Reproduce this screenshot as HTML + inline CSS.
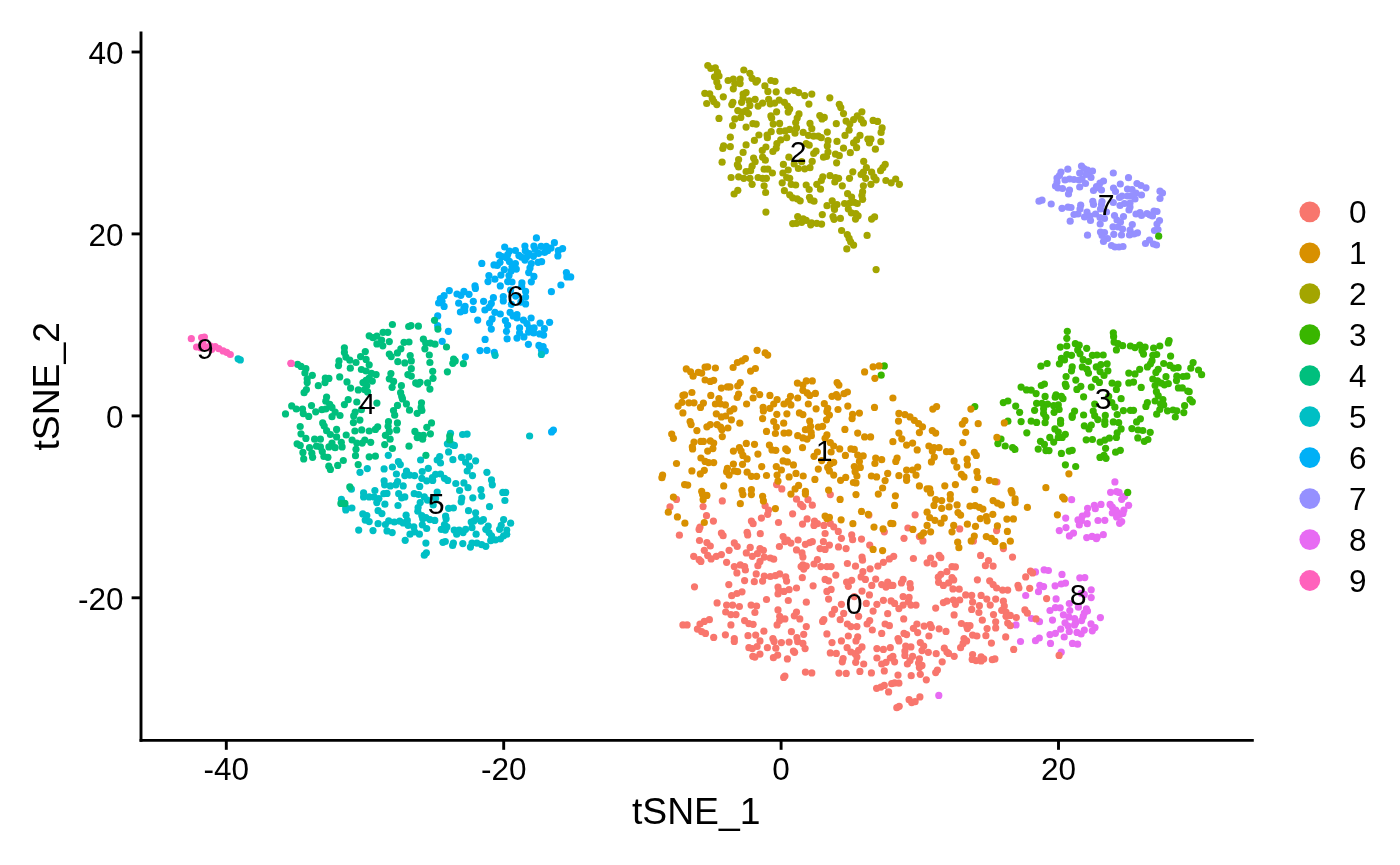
<!DOCTYPE html>
<html><head><meta charset="utf-8"><title>tSNE</title>
<style>html,body{margin:0;padding:0;background:#fff}svg{display:block}text{font-family:"Liberation Sans",sans-serif;fill:#000}</style></head><body>
<svg width="1400" height="865" viewBox="0 0 1400 865">
<rect width="1400" height="865" fill="#fff"/>
<g fill="#E76BF3">
<circle cx="1114.9" cy="481.9" r="3.6"/><circle cx="1110.6" cy="492.3" r="3.6"/><circle cx="1116.6" cy="491.6" r="3.6"/><circle cx="1119.1" cy="492.4" r="3.6"/><circle cx="1124.7" cy="496.3" r="3.6"/><circle cx="1121.7" cy="499.3" r="3.6"/><circle cx="1128.6" cy="505.3" r="3.6"/><circle cx="1110.1" cy="504.4" r="3.6"/><circle cx="1112.3" cy="507.0" r="3.6"/><circle cx="1115.7" cy="510.0" r="3.6"/><circle cx="1112.3" cy="513.0" r="3.6"/><circle cx="1117.4" cy="512.6" r="3.6"/><circle cx="1120.4" cy="514.3" r="3.6"/><circle cx="1123.9" cy="510.0" r="3.6"/><circle cx="1123.0" cy="513.4" r="3.6"/><circle cx="1116.6" cy="516.9" r="3.6"/><circle cx="1119.6" cy="523.3" r="3.6"/><circle cx="1121.7" cy="521.6" r="3.6"/><circle cx="1071.6" cy="499.7" r="3.6"/><circle cx="1087.6" cy="508.3" r="3.6"/><circle cx="1094.3" cy="505.3" r="3.6"/><circle cx="1095.3" cy="508.7" r="3.6"/><circle cx="1101.0" cy="504.4" r="3.6"/><circle cx="1087.0" cy="513.9" r="3.6"/><circle cx="1082.3" cy="516.0" r="3.6"/><circle cx="1078.0" cy="519.9" r="3.6"/><circle cx="1081.4" cy="520.7" r="3.6"/><circle cx="1079.3" cy="525.0" r="3.6"/><circle cx="1087.3" cy="523.7" r="3.6"/><circle cx="1098.0" cy="520.5" r="3.6"/><circle cx="1104.8" cy="520.3" r="3.6"/><circle cx="1065.7" cy="518.1" r="3.6"/><circle cx="1066.0" cy="527.6" r="3.6"/><circle cx="1059.3" cy="530.6" r="3.6"/><circle cx="1069.4" cy="535.9" r="3.6"/><circle cx="1073.5" cy="533.1" r="3.6"/><circle cx="1086.7" cy="537.6" r="3.6"/><circle cx="1092.1" cy="536.4" r="3.6"/><circle cx="1097.3" cy="537.0" r="3.6"/><circle cx="1096.4" cy="538.7" r="3.6"/><circle cx="1103.3" cy="534.7" r="3.6"/><circle cx="1035.5" cy="571.9" r="3.6"/><circle cx="1044.1" cy="569.8" r="3.6"/><circle cx="1048.4" cy="570.5" r="3.6"/><circle cx="1062.0" cy="574.4" r="3.6"/><circle cx="1079.8" cy="577.8" r="3.6"/><circle cx="1084.8" cy="577.6" r="3.6"/><circle cx="1091.2" cy="589.8" r="3.6"/><circle cx="1091.2" cy="597.6" r="3.6"/><circle cx="1084.3" cy="594.4" r="3.6"/><circle cx="1081.1" cy="593.3" r="3.6"/><circle cx="1065.5" cy="583.1" r="3.6"/><circle cx="1061.2" cy="584.0" r="3.6"/><circle cx="1055.1" cy="585.8" r="3.6"/><circle cx="1039.8" cy="585.3" r="3.6"/><circle cx="1043.6" cy="586.6" r="3.6"/><circle cx="1038.5" cy="591.7" r="3.6"/><circle cx="1025.7" cy="595.5" r="3.6"/><circle cx="1056.1" cy="598.9" r="3.6"/><circle cx="1069.3" cy="603.5" r="3.6"/><circle cx="1078.4" cy="607.2" r="3.6"/><circle cx="1086.4" cy="608.9" r="3.6"/><circle cx="1087.5" cy="611.0" r="3.6"/><circle cx="1084.3" cy="613.1" r="3.6"/><circle cx="1083.2" cy="616.4" r="3.6"/><circle cx="1081.6" cy="620.6" r="3.6"/><circle cx="1050.0" cy="610.5" r="3.6"/><circle cx="1055.4" cy="607.6" r="3.6"/><circle cx="1060.2" cy="607.8" r="3.6"/><circle cx="1069.8" cy="610.5" r="3.6"/><circle cx="1063.4" cy="614.8" r="3.6"/><circle cx="1068.8" cy="616.9" r="3.6"/><circle cx="1074.6" cy="618.5" r="3.6"/><circle cx="1075.7" cy="622.8" r="3.6"/><circle cx="1065.0" cy="622.8" r="3.6"/><circle cx="1068.2" cy="626.0" r="3.6"/><circle cx="1060.7" cy="629.2" r="3.6"/><circle cx="1069.3" cy="631.4" r="3.6"/><circle cx="1074.6" cy="624.9" r="3.6"/><circle cx="1052.5" cy="620.1" r="3.6"/><circle cx="1031.5" cy="618.5" r="3.6"/><circle cx="1039.5" cy="621.7" r="3.6"/><circle cx="1016.0" cy="624.9" r="3.6"/><circle cx="1100.4" cy="617.6" r="3.6"/><circle cx="1091.0" cy="623.9" r="3.6"/><circle cx="1095.0" cy="627.6" r="3.6"/><circle cx="1092.3" cy="630.8" r="3.6"/><circle cx="1084.3" cy="630.1" r="3.6"/><circle cx="1081.1" cy="634.0" r="3.6"/><circle cx="1077.0" cy="632.4" r="3.6"/><circle cx="1050.0" cy="634.6" r="3.6"/><circle cx="1055.4" cy="633.3" r="3.6"/><circle cx="1064.2" cy="637.0" r="3.6"/><circle cx="1039.3" cy="638.0" r="3.6"/><circle cx="1035.5" cy="640.7" r="3.6"/><circle cx="1020.5" cy="641.5" r="3.6"/><circle cx="1050.5" cy="643.4" r="3.6"/><circle cx="1072.5" cy="643.4" r="3.6"/><circle cx="1077.6" cy="644.2" r="3.6"/><circle cx="1061.2" cy="652.2" r="3.6"/><circle cx="938.8" cy="695.4" r="3.6"/>
</g>
<g fill="#9590FF">
<circle cx="1067.8" cy="169.2" r="3.6"/><circle cx="1061.0" cy="172.0" r="3.6"/><circle cx="1059.5" cy="175.5" r="3.6"/><circle cx="1057.0" cy="178.0" r="3.6"/><circle cx="1057.0" cy="182.0" r="3.6"/><circle cx="1055.5" cy="186.0" r="3.6"/><circle cx="1058.0" cy="188.0" r="3.6"/><circle cx="1062.5" cy="188.5" r="3.6"/><circle cx="1065.0" cy="180.0" r="3.6"/><circle cx="1069.5" cy="179.0" r="3.6"/><circle cx="1074.0" cy="179.5" r="3.6"/><circle cx="1079.0" cy="180.0" r="3.6"/><circle cx="1082.0" cy="179.0" r="3.6"/><circle cx="1085.5" cy="183.5" r="3.6"/><circle cx="1079.7" cy="187.0" r="3.6"/><circle cx="1079.7" cy="173.0" r="3.6"/><circle cx="1081.5" cy="166.0" r="3.6"/><circle cx="1084.0" cy="168.5" r="3.6"/><circle cx="1087.5" cy="170.0" r="3.6"/><circle cx="1092.5" cy="171.0" r="3.6"/><circle cx="1089.0" cy="174.0" r="3.6"/><circle cx="1091.0" cy="177.5" r="3.6"/><circle cx="1086.0" cy="174.5" r="3.6"/><circle cx="1069.5" cy="190.0" r="3.6"/><circle cx="1068.5" cy="194.0" r="3.6"/><circle cx="1113.3" cy="173.0" r="3.6"/><circle cx="1128.5" cy="177.7" r="3.6"/><circle cx="1120.3" cy="184.0" r="3.6"/><circle cx="1103.5" cy="181.0" r="3.6"/><circle cx="1100.0" cy="183.0" r="3.6"/><circle cx="1096.5" cy="186.5" r="3.6"/><circle cx="1093.5" cy="190.5" r="3.6"/><circle cx="1101.5" cy="190.0" r="3.6"/><circle cx="1099.0" cy="188.0" r="3.6"/><circle cx="1113.5" cy="188.0" r="3.6"/><circle cx="1115.5" cy="191.5" r="3.6"/><circle cx="1127.5" cy="189.0" r="3.6"/><circle cx="1132.0" cy="189.5" r="3.6"/><circle cx="1137.0" cy="183.5" r="3.6"/><circle cx="1141.0" cy="185.5" r="3.6"/><circle cx="1146.0" cy="187.8" r="3.6"/><circle cx="1141.5" cy="195.0" r="3.6"/><circle cx="1136.0" cy="193.0" r="3.6"/><circle cx="1135.0" cy="199.0" r="3.6"/><circle cx="1131.0" cy="196.0" r="3.6"/><circle cx="1127.5" cy="196.0" r="3.6"/><circle cx="1122.0" cy="196.0" r="3.6"/><circle cx="1119.5" cy="197.5" r="3.6"/><circle cx="1160.0" cy="191.2" r="3.6"/><circle cx="1162.5" cy="193.0" r="3.6"/><circle cx="1160.0" cy="198.5" r="3.6"/><circle cx="1092.8" cy="201.3" r="3.6"/><circle cx="1093.5" cy="204.5" r="3.6"/><circle cx="1102.0" cy="201.5" r="3.6"/><circle cx="1101.5" cy="204.5" r="3.6"/><circle cx="1100.5" cy="209.0" r="3.6"/><circle cx="1106.5" cy="212.0" r="3.6"/><circle cx="1113.3" cy="202.5" r="3.6"/><circle cx="1120.0" cy="205.5" r="3.6"/><circle cx="1124.5" cy="203.5" r="3.6"/><circle cx="1130.0" cy="203.0" r="3.6"/><circle cx="1130.0" cy="207.0" r="3.6"/><circle cx="1129.0" cy="210.0" r="3.6"/><circle cx="1039.0" cy="201.2" r="3.6"/><circle cx="1042.0" cy="200.2" r="3.6"/><circle cx="1051.2" cy="204.0" r="3.6"/><circle cx="1062.0" cy="208.3" r="3.6"/><circle cx="1068.0" cy="207.2" r="3.6"/><circle cx="1071.0" cy="207.5" r="3.6"/><circle cx="1080.7" cy="205.2" r="3.6"/><circle cx="1080.0" cy="209.0" r="3.6"/><circle cx="1078.0" cy="214.0" r="3.6"/><circle cx="1074.0" cy="214.5" r="3.6"/><circle cx="1087.0" cy="212.0" r="3.6"/><circle cx="1084.5" cy="217.0" r="3.6"/><circle cx="1090.0" cy="216.0" r="3.6"/><circle cx="1095.5" cy="214.0" r="3.6"/><circle cx="1090.5" cy="220.5" r="3.6"/><circle cx="1100.0" cy="217.5" r="3.6"/><circle cx="1104.5" cy="218.5" r="3.6"/><circle cx="1100.2" cy="224.0" r="3.6"/><circle cx="1070.2" cy="221.2" r="3.6"/><circle cx="1114.5" cy="215.5" r="3.6"/><circle cx="1117.0" cy="220.0" r="3.6"/><circle cx="1123.5" cy="216.5" r="3.6"/><circle cx="1120.5" cy="222.0" r="3.6"/><circle cx="1113.0" cy="226.8" r="3.6"/><circle cx="1118.0" cy="227.0" r="3.6"/><circle cx="1122.5" cy="229.0" r="3.6"/><circle cx="1132.3" cy="224.5" r="3.6"/><circle cx="1130.0" cy="230.0" r="3.6"/><circle cx="1137.5" cy="232.8" r="3.6"/><circle cx="1134.0" cy="234.0" r="3.6"/><circle cx="1129.5" cy="235.0" r="3.6"/><circle cx="1121.5" cy="235.0" r="3.6"/><circle cx="1113.8" cy="234.3" r="3.6"/><circle cx="1087.5" cy="235.2" r="3.6"/><circle cx="1100.5" cy="232.0" r="3.6"/><circle cx="1104.5" cy="232.5" r="3.6"/><circle cx="1102.0" cy="235.5" r="3.6"/><circle cx="1107.5" cy="238.5" r="3.6"/><circle cx="1103.5" cy="241.5" r="3.6"/><circle cx="1111.5" cy="245.5" r="3.6"/><circle cx="1115.0" cy="247.0" r="3.6"/><circle cx="1119.0" cy="247.0" r="3.6"/><circle cx="1123.0" cy="246.5" r="3.6"/><circle cx="1136.0" cy="214.0" r="3.6"/><circle cx="1140.0" cy="212.5" r="3.6"/><circle cx="1141.5" cy="215.5" r="3.6"/><circle cx="1147.0" cy="213.5" r="3.6"/><circle cx="1150.0" cy="215.0" r="3.6"/><circle cx="1152.5" cy="216.0" r="3.6"/><circle cx="1154.0" cy="211.0" r="3.6"/><circle cx="1157.0" cy="211.5" r="3.6"/><circle cx="1159.5" cy="220.5" r="3.6"/><circle cx="1157.0" cy="224.0" r="3.6"/><circle cx="1154.5" cy="230.5" r="3.6"/><circle cx="1158.0" cy="229.5" r="3.6"/><circle cx="1149.5" cy="240.0" r="3.6"/><circle cx="1145.5" cy="243.5" r="3.6"/><circle cx="1153.5" cy="244.0" r="3.6"/><circle cx="1156.5" cy="245.0" r="3.6"/>
</g>
<g fill="#00B0F6">
<circle cx="536.4" cy="237.9" r="3.6"/><circle cx="554.4" cy="242.7" r="3.6"/><circle cx="562.6" cy="248.6" r="3.6"/><circle cx="558.3" cy="250.7" r="3.6"/><circle cx="557.9" cy="255.9" r="3.6"/><circle cx="551.0" cy="248.1" r="3.6"/><circle cx="546.3" cy="246.4" r="3.6"/><circle cx="547.6" cy="250.7" r="3.6"/><circle cx="544.6" cy="252.4" r="3.6"/><circle cx="541.1" cy="246.4" r="3.6"/><circle cx="533.9" cy="246.0" r="3.6"/><circle cx="535.1" cy="249.4" r="3.6"/><circle cx="538.6" cy="253.3" r="3.6"/><circle cx="524.9" cy="246.0" r="3.6"/><circle cx="525.3" cy="250.7" r="3.6"/><circle cx="529.1" cy="253.7" r="3.6"/><circle cx="533.4" cy="256.3" r="3.6"/><circle cx="526.6" cy="257.1" r="3.6"/><circle cx="521.4" cy="257.1" r="3.6"/><circle cx="518.9" cy="255.4" r="3.6"/><circle cx="524.9" cy="260.1" r="3.6"/><circle cx="515.4" cy="250.5" r="3.6"/><circle cx="509.4" cy="251.1" r="3.6"/><circle cx="504.7" cy="247.0" r="3.6"/><circle cx="507.7" cy="254.6" r="3.6"/><circle cx="499.1" cy="255.0" r="3.6"/><circle cx="502.1" cy="256.7" r="3.6"/><circle cx="506.9" cy="258.0" r="3.6"/><circle cx="509.4" cy="261.4" r="3.6"/><circle cx="515.4" cy="263.6" r="3.6"/><circle cx="512.0" cy="266.6" r="3.6"/><circle cx="516.3" cy="269.1" r="3.6"/><circle cx="511.1" cy="270.9" r="3.6"/><circle cx="504.3" cy="269.6" r="3.6"/><circle cx="509.0" cy="275.6" r="3.6"/><circle cx="500.0" cy="262.3" r="3.6"/><circle cx="497.4" cy="265.3" r="3.6"/><circle cx="494.0" cy="264.9" r="3.6"/><circle cx="500.9" cy="275.1" r="3.6"/><circle cx="488.9" cy="275.6" r="3.6"/><circle cx="494.9" cy="279.2" r="3.6"/><circle cx="488.0" cy="281.6" r="3.6"/><circle cx="507.7" cy="281.6" r="3.6"/><circle cx="512.0" cy="282.0" r="3.6"/><circle cx="531.3" cy="263.6" r="3.6"/><circle cx="530.0" cy="267.9" r="3.6"/><circle cx="528.7" cy="272.6" r="3.6"/><circle cx="533.9" cy="276.4" r="3.6"/><circle cx="531.3" cy="281.8" r="3.6"/><circle cx="521.9" cy="282.9" r="3.6"/><circle cx="538.1" cy="262.3" r="3.6"/><circle cx="541.6" cy="261.7" r="3.6"/><circle cx="481.8" cy="263.4" r="3.6"/><circle cx="566.4" cy="272.6" r="3.6"/><circle cx="566.9" cy="276.9" r="3.6"/><circle cx="570.7" cy="276.9" r="3.6"/><circle cx="560.9" cy="285.0" r="3.6"/><circle cx="551.4" cy="291.7" r="3.6"/><circle cx="449.3" cy="290.6" r="3.6"/><circle cx="444.1" cy="295.7" r="3.6"/><circle cx="440.3" cy="298.7" r="3.6"/><circle cx="442.0" cy="301.3" r="3.6"/><circle cx="438.6" cy="303.0" r="3.6"/><circle cx="444.1" cy="306.4" r="3.6"/><circle cx="457.0" cy="294.0" r="3.6"/><circle cx="460.9" cy="295.3" r="3.6"/><circle cx="463.9" cy="291.4" r="3.6"/><circle cx="469.0" cy="294.3" r="3.6"/><circle cx="475.4" cy="288.4" r="3.6"/><circle cx="475.0" cy="285.9" r="3.6"/><circle cx="458.7" cy="303.2" r="3.6"/><circle cx="465.1" cy="306.4" r="3.6"/><circle cx="460.4" cy="312.0" r="3.6"/><circle cx="464.7" cy="310.7" r="3.6"/><circle cx="463.9" cy="308.1" r="3.6"/><circle cx="473.3" cy="301.3" r="3.6"/><circle cx="473.1" cy="309.4" r="3.6"/><circle cx="483.6" cy="301.3" r="3.6"/><circle cx="493.4" cy="297.7" r="3.6"/><circle cx="491.3" cy="303.4" r="3.6"/><circle cx="489.1" cy="307.3" r="3.6"/><circle cx="484.9" cy="310.0" r="3.6"/><circle cx="500.3" cy="285.9" r="3.6"/><circle cx="503.3" cy="296.6" r="3.6"/><circle cx="503.3" cy="300.9" r="3.6"/><circle cx="510.6" cy="290.1" r="3.6"/><circle cx="511.4" cy="304.3" r="3.6"/><circle cx="515.7" cy="296.1" r="3.6"/><circle cx="520.9" cy="302.1" r="3.6"/><circle cx="525.6" cy="291.4" r="3.6"/><circle cx="525.6" cy="297.0" r="3.6"/><circle cx="525.6" cy="303.9" r="3.6"/><circle cx="521.7" cy="286.7" r="3.6"/><circle cx="437.7" cy="315.9" r="3.6"/><circle cx="437.7" cy="325.7" r="3.6"/><circle cx="448.4" cy="331.3" r="3.6"/><circle cx="477.7" cy="320.1" r="3.6"/><circle cx="494.9" cy="312.3" r="3.6"/><circle cx="500.3" cy="314.0" r="3.6"/><circle cx="492.1" cy="318.9" r="3.6"/><circle cx="489.6" cy="323.1" r="3.6"/><circle cx="491.3" cy="329.1" r="3.6"/><circle cx="510.1" cy="312.4" r="3.6"/><circle cx="513.1" cy="315.9" r="3.6"/><circle cx="517.0" cy="314.6" r="3.6"/><circle cx="517.0" cy="318.0" r="3.6"/><circle cx="505.4" cy="320.6" r="3.6"/><circle cx="507.6" cy="325.3" r="3.6"/><circle cx="506.5" cy="331.3" r="3.6"/><circle cx="523.4" cy="320.1" r="3.6"/><circle cx="531.1" cy="318.0" r="3.6"/><circle cx="526.9" cy="323.6" r="3.6"/><circle cx="529.4" cy="327.9" r="3.6"/><circle cx="534.1" cy="327.9" r="3.6"/><circle cx="528.6" cy="332.1" r="3.6"/><circle cx="533.7" cy="333.0" r="3.6"/><circle cx="540.1" cy="323.1" r="3.6"/><circle cx="544.4" cy="328.7" r="3.6"/><circle cx="539.7" cy="333.9" r="3.6"/><circle cx="543.6" cy="335.1" r="3.6"/><circle cx="519.6" cy="327.9" r="3.6"/><circle cx="519.6" cy="333.0" r="3.6"/><circle cx="517.0" cy="338.1" r="3.6"/><circle cx="523.9" cy="336.9" r="3.6"/><circle cx="507.1" cy="338.8" r="3.6"/><circle cx="485.1" cy="339.4" r="3.6"/><circle cx="528.4" cy="344.3" r="3.6"/><circle cx="442.2" cy="341.3" r="3.6"/><circle cx="538.9" cy="345.4" r="3.6"/><circle cx="543.1" cy="346.7" r="3.6"/><circle cx="541.4" cy="349.7" r="3.6"/><circle cx="545.3" cy="351.0" r="3.6"/><circle cx="480.0" cy="350.6" r="3.6"/><circle cx="487.0" cy="350.3" r="3.6"/><circle cx="494.3" cy="352.3" r="3.6"/><circle cx="465.4" cy="356.8" r="3.6"/><circle cx="549.6" cy="322.3" r="3.6"/><circle cx="551.6" cy="431.9" r="3.6"/><circle cx="553.4" cy="430.1" r="3.6"/>
</g>
<g fill="#00BFC4">
<circle cx="495.1" cy="355.3" r="3.6"/><circle cx="541.4" cy="354.4" r="3.6"/><circle cx="450.5" cy="433.3" r="3.6"/><circle cx="462.6" cy="434.5" r="3.6"/><circle cx="467.1" cy="434.1" r="3.6"/><circle cx="447.4" cy="443.8" r="3.6"/><circle cx="452.1" cy="444.6" r="3.6"/><circle cx="454.4" cy="445.4" r="3.6"/><circle cx="388.3" cy="455.3" r="3.6"/><circle cx="398.4" cy="461.7" r="3.6"/><circle cx="400.3" cy="464.6" r="3.6"/><circle cx="392.4" cy="467.0" r="3.6"/><circle cx="384.1" cy="468.9" r="3.6"/><circle cx="367.3" cy="468.6" r="3.6"/><circle cx="360.0" cy="472.3" r="3.6"/><circle cx="396.4" cy="474.0" r="3.6"/><circle cx="420.6" cy="460.0" r="3.6"/><circle cx="428.3" cy="468.3" r="3.6"/><circle cx="422.2" cy="471.5" r="3.6"/><circle cx="406.5" cy="471.0" r="3.6"/><circle cx="404.8" cy="475.6" r="3.6"/><circle cx="409.7" cy="475.1" r="3.6"/><circle cx="414.6" cy="475.6" r="3.6"/><circle cx="439.7" cy="456.5" r="3.6"/><circle cx="437.2" cy="460.0" r="3.6"/><circle cx="440.5" cy="463.0" r="3.6"/><circle cx="448.6" cy="451.9" r="3.6"/><circle cx="452.9" cy="459.7" r="3.6"/><circle cx="461.5" cy="457.3" r="3.6"/><circle cx="468.8" cy="456.8" r="3.6"/><circle cx="465.6" cy="462.1" r="3.6"/><circle cx="469.6" cy="466.2" r="3.6"/><circle cx="467.2" cy="471.0" r="3.6"/><circle cx="472.5" cy="475.6" r="3.6"/><circle cx="475.6" cy="460.8" r="3.6"/><circle cx="486.9" cy="472.3" r="3.6"/><circle cx="491.5" cy="479.9" r="3.6"/><circle cx="492.3" cy="484.8" r="3.6"/><circle cx="421.8" cy="478.3" r="3.6"/><circle cx="426.7" cy="480.8" r="3.6"/><circle cx="432.4" cy="477.5" r="3.6"/><circle cx="435.6" cy="474.3" r="3.6"/><circle cx="440.5" cy="474.0" r="3.6"/><circle cx="432.7" cy="480.4" r="3.6"/><circle cx="444.5" cy="478.3" r="3.6"/><circle cx="447.7" cy="480.4" r="3.6"/><circle cx="419.7" cy="486.4" r="3.6"/><circle cx="455.8" cy="483.5" r="3.6"/><circle cx="463.9" cy="482.9" r="3.6"/><circle cx="468.0" cy="487.7" r="3.6"/><circle cx="459.6" cy="490.5" r="3.6"/><circle cx="480.9" cy="489.7" r="3.6"/><circle cx="481.7" cy="496.1" r="3.6"/><circle cx="472.8" cy="497.8" r="3.6"/><circle cx="461.8" cy="498.1" r="3.6"/><circle cx="461.2" cy="501.8" r="3.6"/><circle cx="502.8" cy="492.4" r="3.6"/><circle cx="505.7" cy="492.4" r="3.6"/><circle cx="504.9" cy="500.5" r="3.6"/><circle cx="489.5" cy="506.7" r="3.6"/><circle cx="384.1" cy="480.8" r="3.6"/><circle cx="384.6" cy="484.8" r="3.6"/><circle cx="390.3" cy="485.9" r="3.6"/><circle cx="395.9" cy="484.8" r="3.6"/><circle cx="397.6" cy="481.6" r="3.6"/><circle cx="403.2" cy="485.9" r="3.6"/><circle cx="398.7" cy="493.7" r="3.6"/><circle cx="401.6" cy="497.8" r="3.6"/><circle cx="404.8" cy="496.9" r="3.6"/><circle cx="383.8" cy="493.7" r="3.6"/><circle cx="387.0" cy="493.4" r="3.6"/><circle cx="374.9" cy="490.5" r="3.6"/><circle cx="363.6" cy="492.9" r="3.6"/><circle cx="363.6" cy="496.9" r="3.6"/><circle cx="369.2" cy="496.9" r="3.6"/><circle cx="374.1" cy="496.9" r="3.6"/><circle cx="378.9" cy="498.6" r="3.6"/><circle cx="376.8" cy="502.6" r="3.6"/><circle cx="384.9" cy="504.2" r="3.6"/><circle cx="398.0" cy="505.5" r="3.6"/><circle cx="414.2" cy="493.7" r="3.6"/><circle cx="418.6" cy="494.5" r="3.6"/><circle cx="424.3" cy="496.9" r="3.6"/><circle cx="427.5" cy="500.2" r="3.6"/><circle cx="437.2" cy="492.1" r="3.6"/><circle cx="435.6" cy="498.6" r="3.6"/><circle cx="420.2" cy="502.6" r="3.6"/><circle cx="418.1" cy="507.5" r="3.6"/><circle cx="417.8" cy="511.2" r="3.6"/><circle cx="433.2" cy="505.0" r="3.6"/><circle cx="448.6" cy="508.3" r="3.6"/><circle cx="453.4" cy="508.0" r="3.6"/><circle cx="468.5" cy="510.7" r="3.6"/><circle cx="475.6" cy="512.8" r="3.6"/><circle cx="351.4" cy="489.2" r="3.6"/><circle cx="341.4" cy="499.4" r="3.6"/><circle cx="345.8" cy="507.5" r="3.6"/><circle cx="345.8" cy="509.9" r="3.6"/><circle cx="351.9" cy="508.0" r="3.6"/><circle cx="378.1" cy="510.7" r="3.6"/><circle cx="381.9" cy="513.6" r="3.6"/><circle cx="362.8" cy="513.9" r="3.6"/><circle cx="366.8" cy="515.6" r="3.6"/><circle cx="365.2" cy="520.1" r="3.6"/><circle cx="369.2" cy="521.6" r="3.6"/><circle cx="406.1" cy="515.2" r="3.6"/><circle cx="407.3" cy="520.4" r="3.6"/><circle cx="403.2" cy="522.9" r="3.6"/><circle cx="408.1" cy="525.3" r="3.6"/><circle cx="421.8" cy="515.6" r="3.6"/><circle cx="425.9" cy="517.7" r="3.6"/><circle cx="422.7" cy="518.8" r="3.6"/><circle cx="429.9" cy="519.6" r="3.6"/><circle cx="434.8" cy="520.4" r="3.6"/><circle cx="445.6" cy="516.1" r="3.6"/><circle cx="446.1" cy="518.8" r="3.6"/><circle cx="444.5" cy="524.5" r="3.6"/><circle cx="446.9" cy="526.9" r="3.6"/><circle cx="441.3" cy="529.3" r="3.6"/><circle cx="445.3" cy="530.1" r="3.6"/><circle cx="422.3" cy="524.8" r="3.6"/><circle cx="426.7" cy="528.5" r="3.6"/><circle cx="378.1" cy="523.7" r="3.6"/><circle cx="385.4" cy="524.5" r="3.6"/><circle cx="388.7" cy="520.9" r="3.6"/><circle cx="394.3" cy="522.0" r="3.6"/><circle cx="399.7" cy="521.2" r="3.6"/><circle cx="413.8" cy="526.9" r="3.6"/><circle cx="414.6" cy="531.8" r="3.6"/><circle cx="410.0" cy="534.2" r="3.6"/><circle cx="419.4" cy="534.2" r="3.6"/><circle cx="387.0" cy="530.9" r="3.6"/><circle cx="392.2" cy="532.6" r="3.6"/><circle cx="358.7" cy="530.1" r="3.6"/><circle cx="373.0" cy="530.6" r="3.6"/><circle cx="405.2" cy="540.3" r="3.6"/><circle cx="425.9" cy="543.1" r="3.6"/><circle cx="426.4" cy="552.8" r="3.6"/><circle cx="424.3" cy="555.2" r="3.6"/><circle cx="442.9" cy="542.3" r="3.6"/><circle cx="445.3" cy="541.5" r="3.6"/><circle cx="453.4" cy="543.1" r="3.6"/><circle cx="452.6" cy="545.5" r="3.6"/><circle cx="462.8" cy="543.6" r="3.6"/><circle cx="454.2" cy="530.1" r="3.6"/><circle cx="459.1" cy="530.1" r="3.6"/><circle cx="456.7" cy="534.2" r="3.6"/><circle cx="463.1" cy="532.6" r="3.6"/><circle cx="465.6" cy="529.3" r="3.6"/><circle cx="472.0" cy="527.7" r="3.6"/><circle cx="473.7" cy="521.2" r="3.6"/><circle cx="471.2" cy="522.0" r="3.6"/><circle cx="476.1" cy="518.8" r="3.6"/><circle cx="480.9" cy="521.2" r="3.6"/><circle cx="483.4" cy="519.6" r="3.6"/><circle cx="476.1" cy="534.2" r="3.6"/><circle cx="488.2" cy="526.1" r="3.6"/><circle cx="485.8" cy="529.3" r="3.6"/><circle cx="489.0" cy="532.6" r="3.6"/><circle cx="491.5" cy="535.8" r="3.6"/><circle cx="490.7" cy="540.7" r="3.6"/><circle cx="495.5" cy="539.8" r="3.6"/><circle cx="500.4" cy="539.0" r="3.6"/><circle cx="503.6" cy="535.8" r="3.6"/><circle cx="506.8" cy="534.2" r="3.6"/><circle cx="506.8" cy="530.1" r="3.6"/><circle cx="499.6" cy="529.3" r="3.6"/><circle cx="501.2" cy="525.3" r="3.6"/><circle cx="503.6" cy="519.6" r="3.6"/><circle cx="510.6" cy="523.2" r="3.6"/><circle cx="470.4" cy="547.1" r="3.6"/><circle cx="472.0" cy="543.1" r="3.6"/><circle cx="476.9" cy="543.1" r="3.6"/><circle cx="481.7" cy="544.7" r="3.6"/><circle cx="485.8" cy="546.3" r="3.6"/><circle cx="529.6" cy="436.0" r="3.6"/><circle cx="238.1" cy="358.8" r="3.6"/><circle cx="240.3" cy="359.9" r="3.6"/>
</g>
<g fill="#00BF7D">
<circle cx="434.5" cy="320.3" r="3.6"/><circle cx="437.9" cy="329.1" r="3.6"/><circle cx="446.5" cy="347.0" r="3.6"/><circle cx="297.6" cy="364.3" r="3.6"/><circle cx="301.0" cy="366.4" r="3.6"/><circle cx="305.9" cy="368.7" r="3.6"/><circle cx="304.9" cy="373.0" r="3.6"/><circle cx="312.3" cy="375.3" r="3.6"/><circle cx="307.2" cy="378.8" r="3.6"/><circle cx="307.2" cy="382.6" r="3.6"/><circle cx="306.4" cy="389.6" r="3.6"/><circle cx="304.1" cy="392.7" r="3.6"/><circle cx="318.3" cy="385.7" r="3.6"/><circle cx="325.3" cy="378.0" r="3.6"/><circle cx="328.9" cy="378.4" r="3.6"/><circle cx="325.0" cy="382.6" r="3.6"/><circle cx="326.6" cy="397.0" r="3.6"/><circle cx="325.8" cy="401.2" r="3.6"/><circle cx="329.7" cy="404.3" r="3.6"/><circle cx="332.0" cy="407.4" r="3.6"/><circle cx="325.8" cy="409.0" r="3.6"/><circle cx="321.9" cy="409.7" r="3.6"/><circle cx="315.7" cy="411.8" r="3.6"/><circle cx="311.5" cy="405.6" r="3.6"/><circle cx="291.7" cy="405.9" r="3.6"/><circle cx="296.3" cy="409.0" r="3.6"/><circle cx="302.5" cy="409.0" r="3.6"/><circle cx="303.3" cy="413.6" r="3.6"/><circle cx="308.7" cy="416.4" r="3.6"/><circle cx="285.5" cy="413.9" r="3.6"/><circle cx="335.1" cy="412.1" r="3.6"/><circle cx="332.0" cy="416.7" r="3.6"/><circle cx="340.0" cy="415.5" r="3.6"/><circle cx="344.4" cy="347.8" r="3.6"/><circle cx="344.4" cy="352.4" r="3.6"/><circle cx="345.9" cy="357.1" r="3.6"/><circle cx="349.8" cy="360.2" r="3.6"/><circle cx="356.0" cy="362.5" r="3.6"/><circle cx="339.0" cy="360.9" r="3.6"/><circle cx="338.5" cy="365.6" r="3.6"/><circle cx="350.3" cy="368.2" r="3.6"/><circle cx="365.3" cy="351.6" r="3.6"/><circle cx="360.6" cy="356.6" r="3.6"/><circle cx="366.1" cy="359.4" r="3.6"/><circle cx="369.2" cy="364.8" r="3.6"/><circle cx="361.4" cy="369.5" r="3.6"/><circle cx="366.1" cy="371.0" r="3.6"/><circle cx="371.5" cy="373.3" r="3.6"/><circle cx="376.1" cy="374.6" r="3.6"/><circle cx="339.7" cy="376.9" r="3.6"/><circle cx="347.0" cy="381.9" r="3.6"/><circle cx="350.6" cy="388.1" r="3.6"/><circle cx="358.3" cy="389.9" r="3.6"/><circle cx="369.2" cy="378.0" r="3.6"/><circle cx="372.3" cy="381.1" r="3.6"/><circle cx="366.1" cy="380.3" r="3.6"/><circle cx="363.0" cy="382.6" r="3.6"/><circle cx="366.8" cy="385.7" r="3.6"/><circle cx="364.5" cy="389.6" r="3.6"/><circle cx="367.6" cy="391.9" r="3.6"/><circle cx="348.2" cy="399.7" r="3.6"/><circle cx="344.4" cy="404.6" r="3.6"/><circle cx="356.8" cy="402.0" r="3.6"/><circle cx="376.9" cy="403.1" r="3.6"/><circle cx="361.4" cy="409.7" r="3.6"/><circle cx="355.2" cy="412.1" r="3.6"/><circle cx="353.7" cy="415.9" r="3.6"/><circle cx="359.9" cy="420.1" r="3.6"/><circle cx="353.4" cy="422.6" r="3.6"/><circle cx="369.2" cy="335.8" r="3.6"/><circle cx="373.0" cy="337.7" r="3.6"/><circle cx="376.9" cy="336.1" r="3.6"/><circle cx="383.1" cy="332.3" r="3.6"/><circle cx="387.8" cy="332.3" r="3.6"/><circle cx="381.6" cy="340.0" r="3.6"/><circle cx="376.9" cy="343.9" r="3.6"/><circle cx="382.8" cy="345.8" r="3.6"/><circle cx="389.3" cy="341.6" r="3.6"/><circle cx="392.4" cy="324.5" r="3.6"/><circle cx="408.7" cy="326.5" r="3.6"/><circle cx="411.0" cy="325.6" r="3.6"/><circle cx="418.4" cy="326.2" r="3.6"/><circle cx="404.0" cy="342.3" r="3.6"/><circle cx="409.0" cy="342.0" r="3.6"/><circle cx="400.9" cy="348.8" r="3.6"/><circle cx="397.4" cy="352.9" r="3.6"/><circle cx="389.3" cy="354.0" r="3.6"/><circle cx="391.2" cy="356.6" r="3.6"/><circle cx="410.2" cy="355.5" r="3.6"/><circle cx="411.3" cy="360.9" r="3.6"/><circle cx="404.8" cy="362.9" r="3.6"/><circle cx="397.8" cy="361.7" r="3.6"/><circle cx="411.3" cy="368.7" r="3.6"/><circle cx="407.9" cy="374.6" r="3.6"/><circle cx="411.3" cy="376.1" r="3.6"/><circle cx="423.4" cy="339.2" r="3.6"/><circle cx="425.7" cy="343.1" r="3.6"/><circle cx="430.4" cy="343.1" r="3.6"/><circle cx="435.0" cy="344.2" r="3.6"/><circle cx="424.9" cy="348.8" r="3.6"/><circle cx="429.3" cy="355.0" r="3.6"/><circle cx="429.9" cy="362.5" r="3.6"/><circle cx="432.7" cy="371.3" r="3.6"/><circle cx="433.0" cy="378.3" r="3.6"/><circle cx="427.6" cy="382.9" r="3.6"/><circle cx="429.9" cy="389.1" r="3.6"/><circle cx="415.7" cy="382.9" r="3.6"/><circle cx="420.0" cy="382.3" r="3.6"/><circle cx="418.0" cy="384.2" r="3.6"/><circle cx="390.9" cy="373.6" r="3.6"/><circle cx="389.3" cy="378.8" r="3.6"/><circle cx="393.6" cy="381.4" r="3.6"/><circle cx="392.1" cy="387.3" r="3.6"/><circle cx="401.4" cy="385.7" r="3.6"/><circle cx="400.6" cy="392.7" r="3.6"/><circle cx="401.7" cy="396.6" r="3.6"/><circle cx="402.5" cy="398.9" r="3.6"/><circle cx="406.4" cy="403.9" r="3.6"/><circle cx="409.5" cy="410.2" r="3.6"/><circle cx="397.5" cy="405.4" r="3.6"/><circle cx="393.5" cy="410.5" r="3.6"/><circle cx="394.7" cy="415.2" r="3.6"/><circle cx="421.5" cy="402.8" r="3.6"/><circle cx="421.1" cy="407.4" r="3.6"/><circle cx="421.9" cy="410.5" r="3.6"/><circle cx="417.2" cy="413.3" r="3.6"/><circle cx="453.6" cy="359.1" r="3.6"/><circle cx="455.2" cy="360.9" r="3.6"/><circle cx="452.8" cy="363.3" r="3.6"/><circle cx="463.4" cy="363.7" r="3.6"/><circle cx="447.4" cy="371.8" r="3.6"/><circle cx="300.2" cy="426.5" r="3.6"/><circle cx="301.0" cy="433.8" r="3.6"/><circle cx="305.9" cy="438.4" r="3.6"/><circle cx="297.1" cy="443.8" r="3.6"/><circle cx="300.2" cy="445.4" r="3.6"/><circle cx="309.5" cy="447.7" r="3.6"/><circle cx="314.6" cy="439.2" r="3.6"/><circle cx="320.4" cy="439.2" r="3.6"/><circle cx="316.5" cy="446.2" r="3.6"/><circle cx="320.4" cy="446.9" r="3.6"/><circle cx="322.7" cy="422.9" r="3.6"/><circle cx="324.2" cy="426.0" r="3.6"/><circle cx="326.6" cy="430.7" r="3.6"/><circle cx="330.4" cy="434.5" r="3.6"/><circle cx="336.6" cy="436.9" r="3.6"/><circle cx="341.3" cy="442.3" r="3.6"/><circle cx="332.0" cy="443.1" r="3.6"/><circle cx="328.9" cy="446.9" r="3.6"/><circle cx="335.1" cy="447.7" r="3.6"/><circle cx="342.1" cy="446.9" r="3.6"/><circle cx="336.6" cy="429.4" r="3.6"/><circle cx="346.2" cy="435.0" r="3.6"/><circle cx="352.1" cy="440.0" r="3.6"/><circle cx="356.8" cy="443.1" r="3.6"/><circle cx="362.2" cy="443.1" r="3.6"/><circle cx="364.8" cy="440.0" r="3.6"/><circle cx="370.7" cy="442.3" r="3.6"/><circle cx="356.0" cy="449.3" r="3.6"/><circle cx="354.9" cy="431.0" r="3.6"/><circle cx="361.7" cy="429.9" r="3.6"/><circle cx="369.2" cy="431.0" r="3.6"/><circle cx="375.4" cy="429.4" r="3.6"/><circle cx="377.7" cy="426.8" r="3.6"/><circle cx="388.5" cy="421.7" r="3.6"/><circle cx="388.1" cy="426.3" r="3.6"/><circle cx="389.3" cy="431.4" r="3.6"/><circle cx="385.4" cy="435.3" r="3.6"/><circle cx="390.1" cy="439.2" r="3.6"/><circle cx="384.7" cy="444.6" r="3.6"/><circle cx="392.4" cy="448.5" r="3.6"/><circle cx="397.4" cy="422.9" r="3.6"/><circle cx="396.7" cy="429.9" r="3.6"/><circle cx="431.5" cy="422.9" r="3.6"/><circle cx="426.8" cy="427.3" r="3.6"/><circle cx="430.4" cy="433.8" r="3.6"/><circle cx="414.9" cy="431.4" r="3.6"/><circle cx="418.8" cy="435.3" r="3.6"/><circle cx="423.4" cy="435.3" r="3.6"/><circle cx="417.2" cy="437.6" r="3.6"/><circle cx="422.6" cy="439.2" r="3.6"/><circle cx="409.0" cy="446.2" r="3.6"/><circle cx="449.7" cy="436.1" r="3.6"/><circle cx="449.7" cy="440.0" r="3.6"/><circle cx="302.9" cy="452.4" r="3.6"/><circle cx="303.7" cy="458.9" r="3.6"/><circle cx="312.6" cy="457.3" r="3.6"/><circle cx="311.8" cy="453.2" r="3.6"/><circle cx="322.3" cy="451.6" r="3.6"/><circle cx="323.9" cy="456.5" r="3.6"/><circle cx="327.9" cy="457.3" r="3.6"/><circle cx="343.3" cy="460.5" r="3.6"/><circle cx="337.7" cy="465.4" r="3.6"/><circle cx="328.8" cy="466.2" r="3.6"/><circle cx="330.4" cy="469.4" r="3.6"/><circle cx="355.5" cy="455.7" r="3.6"/><circle cx="358.2" cy="464.6" r="3.6"/><circle cx="369.2" cy="456.8" r="3.6"/><circle cx="375.4" cy="456.2" r="3.6"/><circle cx="425.9" cy="455.3" r="3.6"/><circle cx="349.8" cy="486.9" r="3.6"/><circle cx="340.9" cy="503.4" r="3.6"/><circle cx="344.9" cy="503.4" r="3.6"/>
</g>
<g fill="#39B600">
<circle cx="1158.7" cy="236.2" r="3.6"/><circle cx="1127.7" cy="492.4" r="3.6"/><circle cx="1067.3" cy="331.3" r="3.6"/><circle cx="1066.8" cy="338.3" r="3.6"/><circle cx="1066.8" cy="346.0" r="3.6"/><circle cx="1060.3" cy="347.1" r="3.6"/><circle cx="1075.3" cy="343.7" r="3.6"/><circle cx="1079.2" cy="345.2" r="3.6"/><circle cx="1077.7" cy="349.9" r="3.6"/><circle cx="1086.7" cy="348.3" r="3.6"/><circle cx="1066.8" cy="354.5" r="3.6"/><circle cx="1071.5" cy="355.3" r="3.6"/><circle cx="1080.0" cy="353.8" r="3.6"/><circle cx="1061.4" cy="358.4" r="3.6"/><circle cx="1064.5" cy="360.0" r="3.6"/><circle cx="1059.4" cy="363.8" r="3.6"/><circle cx="1083.1" cy="359.7" r="3.6"/><circle cx="1088.5" cy="361.5" r="3.6"/><circle cx="1092.4" cy="355.3" r="3.6"/><circle cx="1097.0" cy="355.0" r="3.6"/><circle cx="1103.2" cy="355.0" r="3.6"/><circle cx="1040.9" cy="366.2" r="3.6"/><circle cx="1047.1" cy="363.5" r="3.6"/><circle cx="1072.2" cy="366.9" r="3.6"/><circle cx="1071.5" cy="370.8" r="3.6"/><circle cx="1082.3" cy="366.9" r="3.6"/><circle cx="1087.0" cy="369.3" r="3.6"/><circle cx="1088.5" cy="373.1" r="3.6"/><circle cx="1096.3" cy="366.9" r="3.6"/><circle cx="1100.9" cy="364.6" r="3.6"/><circle cx="1107.1" cy="363.8" r="3.6"/><circle cx="1107.9" cy="370.8" r="3.6"/><circle cx="1100.1" cy="371.6" r="3.6"/><circle cx="1104.0" cy="375.5" r="3.6"/><circle cx="1066.1" cy="376.5" r="3.6"/><circle cx="1075.8" cy="380.1" r="3.6"/><circle cx="1065.3" cy="384.0" r="3.6"/><circle cx="1066.1" cy="386.3" r="3.6"/><circle cx="1095.5" cy="379.3" r="3.6"/><circle cx="1099.4" cy="382.4" r="3.6"/><circle cx="1091.3" cy="387.1" r="3.6"/><circle cx="1080.8" cy="386.3" r="3.6"/><circle cx="1076.9" cy="389.4" r="3.6"/><circle cx="1113.3" cy="332.8" r="3.6"/><circle cx="1113.6" cy="336.7" r="3.6"/><circle cx="1114.1" cy="342.1" r="3.6"/><circle cx="1118.0" cy="343.7" r="3.6"/><circle cx="1122.6" cy="345.7" r="3.6"/><circle cx="1116.4" cy="349.9" r="3.6"/><circle cx="1130.4" cy="346.0" r="3.6"/><circle cx="1135.0" cy="347.6" r="3.6"/><circle cx="1139.7" cy="345.2" r="3.6"/><circle cx="1145.1" cy="347.1" r="3.6"/><circle cx="1142.0" cy="350.7" r="3.6"/><circle cx="1143.5" cy="354.1" r="3.6"/><circle cx="1169.1" cy="340.6" r="3.6"/><circle cx="1168.3" cy="342.9" r="3.6"/><circle cx="1153.6" cy="348.0" r="3.6"/><circle cx="1159.8" cy="346.0" r="3.6"/><circle cx="1156.7" cy="354.5" r="3.6"/><circle cx="1152.8" cy="355.3" r="3.6"/><circle cx="1152.0" cy="360.7" r="3.6"/><circle cx="1150.5" cy="363.8" r="3.6"/><circle cx="1147.4" cy="366.9" r="3.6"/><circle cx="1170.6" cy="356.1" r="3.6"/><circle cx="1163.7" cy="363.5" r="3.6"/><circle cx="1169.9" cy="365.4" r="3.6"/><circle cx="1173.7" cy="368.2" r="3.6"/><circle cx="1178.1" cy="367.7" r="3.6"/><circle cx="1193.1" cy="362.6" r="3.6"/><circle cx="1190.8" cy="368.2" r="3.6"/><circle cx="1198.5" cy="370.0" r="3.6"/><circle cx="1201.6" cy="374.7" r="3.6"/><circle cx="1139.7" cy="369.3" r="3.6"/><circle cx="1135.0" cy="373.9" r="3.6"/><circle cx="1128.8" cy="373.1" r="3.6"/><circle cx="1158.2" cy="369.3" r="3.6"/><circle cx="1155.9" cy="372.4" r="3.6"/><circle cx="1152.8" cy="379.0" r="3.6"/><circle cx="1157.5" cy="380.9" r="3.6"/><circle cx="1155.1" cy="385.5" r="3.6"/><circle cx="1161.3" cy="383.2" r="3.6"/><circle cx="1164.4" cy="384.8" r="3.6"/><circle cx="1168.3" cy="383.7" r="3.6"/><circle cx="1166.0" cy="376.7" r="3.6"/><circle cx="1176.8" cy="376.2" r="3.6"/><circle cx="1176.5" cy="380.6" r="3.6"/><circle cx="1183.0" cy="376.5" r="3.6"/><circle cx="1186.9" cy="376.2" r="3.6"/><circle cx="1128.8" cy="382.9" r="3.6"/><circle cx="1133.5" cy="382.1" r="3.6"/><circle cx="1141.2" cy="387.4" r="3.6"/><circle cx="1112.1" cy="383.2" r="3.6"/><circle cx="1118.0" cy="384.0" r="3.6"/><circle cx="1116.4" cy="389.4" r="3.6"/><circle cx="1178.4" cy="387.9" r="3.6"/><circle cx="1182.3" cy="387.9" r="3.6"/><circle cx="1187.7" cy="391.0" r="3.6"/><circle cx="1189.2" cy="391.7" r="3.6"/><circle cx="1156.4" cy="391.7" r="3.6"/><circle cx="1158.2" cy="395.6" r="3.6"/><circle cx="1155.1" cy="401.0" r="3.6"/><circle cx="1162.9" cy="399.5" r="3.6"/><circle cx="1160.6" cy="404.1" r="3.6"/><circle cx="1163.7" cy="404.9" r="3.6"/><circle cx="1159.8" cy="409.5" r="3.6"/><circle cx="1156.7" cy="414.2" r="3.6"/><circle cx="1190.0" cy="399.5" r="3.6"/><circle cx="1192.3" cy="401.8" r="3.6"/><circle cx="1184.6" cy="405.7" r="3.6"/><circle cx="1183.8" cy="412.6" r="3.6"/><circle cx="1167.5" cy="410.8" r="3.6"/><circle cx="1173.0" cy="410.0" r="3.6"/><circle cx="1176.8" cy="410.8" r="3.6"/><circle cx="1175.3" cy="417.0" r="3.6"/><circle cx="1147.4" cy="402.6" r="3.6"/><circle cx="1145.9" cy="406.4" r="3.6"/><circle cx="1121.1" cy="398.7" r="3.6"/><circle cx="1021.1" cy="387.1" r="3.6"/><circle cx="1026.5" cy="389.9" r="3.6"/><circle cx="1031.2" cy="390.2" r="3.6"/><circle cx="1036.1" cy="393.6" r="3.6"/><circle cx="1041.3" cy="385.5" r="3.6"/><circle cx="1044.4" cy="384.0" r="3.6"/><circle cx="1045.1" cy="396.4" r="3.6"/><circle cx="1056.0" cy="394.8" r="3.6"/><circle cx="1055.2" cy="397.2" r="3.6"/><circle cx="1061.4" cy="396.4" r="3.6"/><circle cx="1063.0" cy="398.7" r="3.6"/><circle cx="1083.6" cy="396.8" r="3.6"/><circle cx="1003.3" cy="402.6" r="3.6"/><circle cx="1007.9" cy="401.0" r="3.6"/><circle cx="1015.7" cy="406.1" r="3.6"/><circle cx="1019.6" cy="412.3" r="3.6"/><circle cx="1036.6" cy="403.3" r="3.6"/><circle cx="1042.0" cy="403.3" r="3.6"/><circle cx="1047.5" cy="404.1" r="3.6"/><circle cx="1043.6" cy="408.8" r="3.6"/><circle cx="1043.6" cy="413.4" r="3.6"/><circle cx="1045.9" cy="417.3" r="3.6"/><circle cx="1045.1" cy="422.7" r="3.6"/><circle cx="1034.6" cy="410.3" r="3.6"/><circle cx="1053.7" cy="405.7" r="3.6"/><circle cx="1058.3" cy="404.9" r="3.6"/><circle cx="1059.1" cy="409.5" r="3.6"/><circle cx="1054.1" cy="412.3" r="3.6"/><circle cx="1074.6" cy="411.1" r="3.6"/><circle cx="1072.2" cy="415.7" r="3.6"/><circle cx="1072.2" cy="417.3" r="3.6"/><circle cx="1083.6" cy="415.0" r="3.6"/><circle cx="1093.2" cy="411.1" r="3.6"/><circle cx="1094.7" cy="415.7" r="3.6"/><circle cx="1097.8" cy="419.6" r="3.6"/><circle cx="1094.7" cy="404.1" r="3.6"/><circle cx="1108.7" cy="396.4" r="3.6"/><circle cx="1111.8" cy="402.6" r="3.6"/><circle cx="1114.9" cy="407.2" r="3.6"/><circle cx="1117.2" cy="414.5" r="3.6"/><circle cx="1105.3" cy="415.4" r="3.6"/><circle cx="1104.8" cy="421.2" r="3.6"/><circle cx="1104.8" cy="424.3" r="3.6"/><circle cx="1123.4" cy="410.6" r="3.6"/><circle cx="1130.4" cy="410.3" r="3.6"/><circle cx="1133.5" cy="410.3" r="3.6"/><circle cx="1021.1" cy="421.6" r="3.6"/><circle cx="1031.2" cy="421.2" r="3.6"/><circle cx="1036.6" cy="422.4" r="3.6"/><circle cx="1060.6" cy="420.4" r="3.6"/><circle cx="1060.6" cy="423.5" r="3.6"/><circle cx="1007.9" cy="421.2" r="3.6"/><circle cx="1026.8" cy="432.8" r="3.6"/><circle cx="1054.9" cy="428.9" r="3.6"/><circle cx="1058.3" cy="432.0" r="3.6"/><circle cx="1065.3" cy="434.3" r="3.6"/><circle cx="1062.2" cy="437.4" r="3.6"/><circle cx="1058.3" cy="437.4" r="3.6"/><circle cx="1084.3" cy="425.8" r="3.6"/><circle cx="1089.0" cy="428.9" r="3.6"/><circle cx="1091.3" cy="425.0" r="3.6"/><circle cx="1113.3" cy="421.9" r="3.6"/><circle cx="1118.7" cy="422.7" r="3.6"/><circle cx="1121.1" cy="428.9" r="3.6"/><circle cx="1117.2" cy="432.8" r="3.6"/><circle cx="1116.4" cy="437.4" r="3.6"/><circle cx="1140.4" cy="418.8" r="3.6"/><circle cx="1136.6" cy="421.9" r="3.6"/><circle cx="1131.9" cy="428.6" r="3.6"/><circle cx="1138.1" cy="430.0" r="3.6"/><circle cx="1142.8" cy="430.5" r="3.6"/><circle cx="1150.2" cy="432.3" r="3.6"/><circle cx="1137.8" cy="437.9" r="3.6"/><circle cx="1144.3" cy="441.3" r="3.6"/><circle cx="1147.9" cy="439.5" r="3.6"/><circle cx="1086.2" cy="439.8" r="3.6"/><circle cx="1092.4" cy="439.5" r="3.6"/><circle cx="1100.1" cy="442.1" r="3.6"/><circle cx="1104.8" cy="440.1" r="3.6"/><circle cx="1109.4" cy="438.2" r="3.6"/><circle cx="1105.6" cy="448.3" r="3.6"/><circle cx="1040.5" cy="441.3" r="3.6"/><circle cx="1044.4" cy="444.4" r="3.6"/><circle cx="1038.2" cy="449.1" r="3.6"/><circle cx="1049.8" cy="437.4" r="3.6"/><circle cx="1053.7" cy="442.1" r="3.6"/><circle cx="1045.9" cy="450.6" r="3.6"/><circle cx="1049.0" cy="450.6" r="3.6"/><circle cx="1061.4" cy="453.4" r="3.6"/><circle cx="1069.2" cy="451.1" r="3.6"/><circle cx="1072.2" cy="450.3" r="3.6"/><circle cx="1115.6" cy="452.2" r="3.6"/><circle cx="1120.3" cy="450.3" r="3.6"/><circle cx="1104.0" cy="455.3" r="3.6"/><circle cx="1001.0" cy="439.0" r="3.6"/><circle cx="997.9" cy="443.6" r="3.6"/><circle cx="1005.2" cy="446.0" r="3.6"/><circle cx="1012.6" cy="447.5" r="3.6"/><circle cx="1014.9" cy="449.4" r="3.6"/><circle cx="1100.0" cy="457.4" r="3.6"/><circle cx="1106.0" cy="458.3" r="3.6"/><circle cx="1065.4" cy="464.8" r="3.6"/><circle cx="1075.7" cy="466.5" r="3.6"/><circle cx="884.3" cy="365.9" r="3.6"/><circle cx="881.2" cy="375.2" r="3.6"/><circle cx="974.8" cy="406.6" r="3.6"/>
</g>
<g fill="#A3A500">
<circle cx="707.8" cy="65.5" r="3.6"/><circle cx="710.8" cy="68.5" r="3.6"/><circle cx="715.3" cy="67.8" r="3.6"/><circle cx="717.5" cy="72.3" r="3.6"/><circle cx="719.0" cy="76.0" r="3.6"/><circle cx="714.5" cy="76.8" r="3.6"/><circle cx="716.8" cy="82.1" r="3.6"/><circle cx="718.3" cy="86.6" r="3.6"/><circle cx="743.8" cy="70.0" r="3.6"/><circle cx="749.9" cy="73.3" r="3.6"/><circle cx="752.1" cy="78.3" r="3.6"/><circle cx="757.4" cy="80.5" r="3.6"/><circle cx="755.9" cy="82.1" r="3.6"/><circle cx="728.1" cy="80.5" r="3.6"/><circle cx="733.3" cy="79.0" r="3.6"/><circle cx="734.8" cy="83.6" r="3.6"/><circle cx="740.1" cy="79.0" r="3.6"/><circle cx="740.1" cy="83.6" r="3.6"/><circle cx="733.3" cy="88.8" r="3.6"/><circle cx="770.9" cy="80.5" r="3.6"/><circle cx="775.0" cy="81.3" r="3.6"/><circle cx="764.9" cy="85.8" r="3.6"/><circle cx="767.9" cy="91.4" r="3.6"/><circle cx="776.2" cy="91.8" r="3.6"/><circle cx="788.2" cy="91.1" r="3.6"/><circle cx="794.2" cy="90.3" r="3.6"/><circle cx="798.7" cy="92.6" r="3.6"/><circle cx="804.7" cy="95.6" r="3.6"/><circle cx="811.8" cy="94.1" r="3.6"/><circle cx="808.9" cy="104.1" r="3.6"/><circle cx="829.8" cy="97.8" r="3.6"/><circle cx="704.8" cy="93.3" r="3.6"/><circle cx="709.7" cy="93.8" r="3.6"/><circle cx="712.3" cy="98.6" r="3.6"/><circle cx="706.7" cy="103.5" r="3.6"/><circle cx="713.8" cy="101.6" r="3.6"/><circle cx="716.8" cy="104.6" r="3.6"/><circle cx="723.3" cy="96.8" r="3.6"/><circle cx="743.1" cy="94.1" r="3.6"/><circle cx="746.1" cy="92.6" r="3.6"/><circle cx="743.1" cy="97.8" r="3.6"/><circle cx="741.6" cy="102.3" r="3.6"/><circle cx="732.9" cy="102.3" r="3.6"/><circle cx="731.8" cy="104.6" r="3.6"/><circle cx="749.1" cy="100.8" r="3.6"/><circle cx="755.1" cy="99.3" r="3.6"/><circle cx="749.9" cy="105.4" r="3.6"/><circle cx="758.1" cy="106.1" r="3.6"/><circle cx="762.6" cy="103.1" r="3.6"/><circle cx="768.7" cy="99.3" r="3.6"/><circle cx="770.2" cy="103.8" r="3.6"/><circle cx="774.7" cy="103.1" r="3.6"/><circle cx="779.2" cy="100.1" r="3.6"/><circle cx="784.4" cy="102.3" r="3.6"/><circle cx="787.4" cy="106.1" r="3.6"/><circle cx="789.7" cy="109.1" r="3.6"/><circle cx="788.2" cy="112.1" r="3.6"/><circle cx="737.8" cy="110.6" r="3.6"/><circle cx="742.3" cy="112.1" r="3.6"/><circle cx="746.1" cy="110.6" r="3.6"/><circle cx="748.4" cy="113.6" r="3.6"/><circle cx="740.8" cy="117.4" r="3.6"/><circle cx="734.8" cy="118.9" r="3.6"/><circle cx="732.6" cy="125.6" r="3.6"/><circle cx="776.6" cy="111.8" r="3.6"/><circle cx="770.9" cy="115.9" r="3.6"/><circle cx="771.7" cy="118.1" r="3.6"/><circle cx="773.2" cy="124.1" r="3.6"/><circle cx="779.6" cy="123.4" r="3.6"/><circle cx="719.0" cy="118.4" r="3.6"/><circle cx="799.0" cy="113.9" r="3.6"/><circle cx="797.2" cy="118.1" r="3.6"/><circle cx="795.7" cy="122.6" r="3.6"/><circle cx="796.5" cy="127.9" r="3.6"/><circle cx="795.0" cy="133.2" r="3.6"/><circle cx="819.8" cy="115.6" r="3.6"/><circle cx="824.3" cy="117.4" r="3.6"/><circle cx="822.0" cy="118.9" r="3.6"/><circle cx="810.0" cy="123.4" r="3.6"/><circle cx="811.8" cy="128.7" r="3.6"/><circle cx="752.9" cy="123.7" r="3.6"/><circle cx="756.2" cy="124.1" r="3.6"/><circle cx="746.1" cy="127.1" r="3.6"/><circle cx="779.9" cy="131.2" r="3.6"/><circle cx="785.2" cy="130.9" r="3.6"/><circle cx="789.7" cy="129.4" r="3.6"/><circle cx="803.2" cy="132.4" r="3.6"/><circle cx="808.5" cy="135.4" r="3.6"/><circle cx="813.7" cy="136.2" r="3.6"/><circle cx="818.3" cy="136.2" r="3.6"/><circle cx="821.3" cy="137.7" r="3.6"/><circle cx="827.3" cy="132.1" r="3.6"/><circle cx="730.3" cy="137.2" r="3.6"/><circle cx="758.9" cy="135.0" r="3.6"/><circle cx="754.4" cy="140.4" r="3.6"/><circle cx="746.1" cy="144.9" r="3.6"/><circle cx="771.2" cy="131.7" r="3.6"/><circle cx="767.1" cy="135.0" r="3.6"/><circle cx="767.4" cy="137.7" r="3.6"/><circle cx="786.7" cy="137.7" r="3.6"/><circle cx="780.7" cy="139.9" r="3.6"/><circle cx="776.9" cy="143.7" r="3.6"/><circle cx="776.2" cy="148.2" r="3.6"/><circle cx="772.9" cy="151.5" r="3.6"/><circle cx="723.6" cy="145.9" r="3.6"/><circle cx="722.8" cy="148.5" r="3.6"/><circle cx="730.3" cy="146.7" r="3.6"/><circle cx="765.9" cy="147.0" r="3.6"/><circle cx="762.3" cy="150.4" r="3.6"/><circle cx="743.1" cy="152.4" r="3.6"/><circle cx="828.0" cy="140.7" r="3.6"/><circle cx="827.3" cy="145.9" r="3.6"/><circle cx="828.0" cy="152.0" r="3.6"/><circle cx="826.5" cy="156.5" r="3.6"/><circle cx="823.5" cy="157.2" r="3.6"/><circle cx="837.0" cy="141.4" r="3.6"/><circle cx="843.5" cy="148.2" r="3.6"/><circle cx="850.3" cy="152.7" r="3.6"/><circle cx="836.3" cy="123.7" r="3.6"/><circle cx="839.3" cy="104.3" r="3.6"/><circle cx="840.8" cy="107.6" r="3.6"/><circle cx="843.5" cy="113.6" r="3.6"/><circle cx="861.9" cy="111.8" r="3.6"/><circle cx="857.3" cy="115.9" r="3.6"/><circle cx="853.6" cy="119.6" r="3.6"/><circle cx="846.1" cy="121.1" r="3.6"/><circle cx="849.8" cy="124.1" r="3.6"/><circle cx="849.1" cy="130.2" r="3.6"/><circle cx="845.0" cy="135.4" r="3.6"/><circle cx="861.1" cy="119.6" r="3.6"/><circle cx="863.4" cy="122.9" r="3.6"/><circle cx="873.1" cy="120.4" r="3.6"/><circle cx="877.6" cy="121.4" r="3.6"/><circle cx="882.1" cy="127.9" r="3.6"/><circle cx="881.1" cy="132.4" r="3.6"/><circle cx="860.0" cy="135.4" r="3.6"/><circle cx="856.6" cy="139.9" r="3.6"/><circle cx="853.6" cy="142.9" r="3.6"/><circle cx="856.6" cy="147.7" r="3.6"/><circle cx="867.9" cy="139.2" r="3.6"/><circle cx="870.9" cy="139.2" r="3.6"/><circle cx="869.4" cy="142.9" r="3.6"/><circle cx="880.9" cy="141.7" r="3.6"/><circle cx="875.4" cy="149.2" r="3.6"/><circle cx="806.2" cy="143.7" r="3.6"/><circle cx="809.2" cy="145.2" r="3.6"/><circle cx="813.7" cy="153.5" r="3.6"/><circle cx="816.0" cy="151.2" r="3.6"/><circle cx="788.9" cy="157.2" r="3.6"/><circle cx="812.2" cy="161.4" r="3.6"/><circle cx="810.0" cy="167.7" r="3.6"/><circle cx="804.7" cy="168.8" r="3.6"/><circle cx="798.4" cy="168.5" r="3.6"/><circle cx="794.2" cy="164.0" r="3.6"/><circle cx="783.4" cy="164.4" r="3.6"/><circle cx="801.7" cy="161.7" r="3.6"/><circle cx="835.5" cy="154.2" r="3.6"/><circle cx="839.3" cy="155.7" r="3.6"/><circle cx="836.6" cy="162.8" r="3.6"/><circle cx="722.1" cy="162.2" r="3.6"/><circle cx="738.6" cy="159.5" r="3.6"/><circle cx="737.4" cy="164.7" r="3.6"/><circle cx="738.6" cy="167.0" r="3.6"/><circle cx="753.6" cy="158.0" r="3.6"/><circle cx="755.1" cy="161.7" r="3.6"/><circle cx="752.1" cy="166.2" r="3.6"/><circle cx="750.6" cy="170.7" r="3.6"/><circle cx="762.6" cy="157.2" r="3.6"/><circle cx="765.3" cy="160.2" r="3.6"/><circle cx="764.1" cy="169.2" r="3.6"/><circle cx="767.9" cy="169.2" r="3.6"/><circle cx="772.4" cy="173.0" r="3.6"/><circle cx="746.1" cy="171.5" r="3.6"/><circle cx="738.6" cy="176.8" r="3.6"/><circle cx="731.1" cy="177.5" r="3.6"/><circle cx="743.8" cy="178.3" r="3.6"/><circle cx="749.9" cy="178.3" r="3.6"/><circle cx="758.1" cy="177.5" r="3.6"/><circle cx="762.6" cy="178.3" r="3.6"/><circle cx="766.4" cy="178.3" r="3.6"/><circle cx="788.2" cy="170.0" r="3.6"/><circle cx="782.9" cy="173.0" r="3.6"/><circle cx="786.7" cy="177.5" r="3.6"/><circle cx="789.7" cy="178.3" r="3.6"/><circle cx="782.2" cy="182.8" r="3.6"/><circle cx="791.2" cy="184.3" r="3.6"/><circle cx="795.7" cy="185.0" r="3.6"/><circle cx="752.1" cy="184.3" r="3.6"/><circle cx="764.1" cy="185.8" r="3.6"/><circle cx="806.2" cy="185.0" r="3.6"/><circle cx="816.8" cy="184.3" r="3.6"/><circle cx="822.8" cy="176.8" r="3.6"/><circle cx="821.3" cy="180.5" r="3.6"/><circle cx="830.0" cy="175.7" r="3.6"/><circle cx="835.5" cy="177.5" r="3.6"/><circle cx="838.6" cy="178.3" r="3.6"/><circle cx="834.8" cy="182.0" r="3.6"/><circle cx="842.3" cy="185.8" r="3.6"/><circle cx="852.8" cy="171.8" r="3.6"/><circle cx="849.5" cy="178.3" r="3.6"/><circle cx="863.7" cy="161.4" r="3.6"/><circle cx="866.4" cy="167.7" r="3.6"/><circle cx="863.4" cy="172.2" r="3.6"/><circle cx="861.1" cy="174.5" r="3.6"/><circle cx="865.6" cy="178.3" r="3.6"/><circle cx="871.6" cy="172.2" r="3.6"/><circle cx="873.9" cy="176.8" r="3.6"/><circle cx="876.1" cy="179.8" r="3.6"/><circle cx="885.2" cy="164.4" r="3.6"/><circle cx="882.9" cy="167.7" r="3.6"/><circle cx="880.6" cy="170.7" r="3.6"/><circle cx="885.9" cy="180.5" r="3.6"/><circle cx="891.2" cy="182.8" r="3.6"/><circle cx="895.7" cy="179.0" r="3.6"/><circle cx="899.4" cy="184.3" r="3.6"/><circle cx="863.4" cy="185.8" r="3.6"/><circle cx="870.9" cy="184.3" r="3.6"/><circle cx="737.8" cy="190.3" r="3.6"/><circle cx="734.1" cy="194.0" r="3.6"/><circle cx="765.6" cy="192.5" r="3.6"/><circle cx="784.4" cy="190.7" r="3.6"/><circle cx="789.7" cy="194.8" r="3.6"/><circle cx="792.7" cy="197.8" r="3.6"/><circle cx="797.2" cy="198.8" r="3.6"/><circle cx="800.2" cy="200.8" r="3.6"/><circle cx="809.2" cy="189.5" r="3.6"/><circle cx="809.5" cy="197.3" r="3.6"/><circle cx="810.7" cy="200.0" r="3.6"/><circle cx="814.0" cy="201.2" r="3.6"/><circle cx="820.5" cy="189.2" r="3.6"/><circle cx="847.6" cy="193.7" r="3.6"/><circle cx="851.6" cy="197.0" r="3.6"/><circle cx="862.6" cy="191.8" r="3.6"/><circle cx="861.9" cy="195.5" r="3.6"/><circle cx="862.6" cy="199.3" r="3.6"/><circle cx="832.2" cy="200.8" r="3.6"/><circle cx="827.0" cy="205.7" r="3.6"/><circle cx="837.0" cy="204.5" r="3.6"/><circle cx="834.0" cy="206.8" r="3.6"/><circle cx="834.5" cy="209.5" r="3.6"/><circle cx="844.6" cy="203.5" r="3.6"/><circle cx="849.8" cy="203.0" r="3.6"/><circle cx="854.3" cy="202.3" r="3.6"/><circle cx="857.3" cy="203.5" r="3.6"/><circle cx="848.3" cy="209.0" r="3.6"/><circle cx="851.3" cy="212.8" r="3.6"/><circle cx="855.8" cy="213.6" r="3.6"/><circle cx="858.1" cy="215.8" r="3.6"/><circle cx="855.5" cy="219.1" r="3.6"/><circle cx="765.9" cy="212.1" r="3.6"/><circle cx="822.3" cy="214.6" r="3.6"/><circle cx="833.0" cy="216.6" r="3.6"/><circle cx="834.0" cy="219.3" r="3.6"/><circle cx="840.4" cy="218.4" r="3.6"/><circle cx="797.7" cy="216.6" r="3.6"/><circle cx="803.2" cy="218.8" r="3.6"/><circle cx="806.2" cy="220.3" r="3.6"/><circle cx="801.7" cy="222.3" r="3.6"/><circle cx="796.5" cy="223.3" r="3.6"/><circle cx="792.7" cy="223.6" r="3.6"/><circle cx="811.5" cy="222.9" r="3.6"/><circle cx="810.7" cy="224.8" r="3.6"/><circle cx="816.8" cy="223.3" r="3.6"/><circle cx="821.6" cy="224.1" r="3.6"/><circle cx="874.6" cy="216.9" r="3.6"/><circle cx="871.6" cy="219.1" r="3.6"/><circle cx="841.6" cy="230.5" r="3.6"/><circle cx="847.3" cy="234.6" r="3.6"/><circle cx="849.1" cy="238.4" r="3.6"/><circle cx="850.6" cy="241.8" r="3.6"/><circle cx="853.6" cy="245.1" r="3.6"/><circle cx="846.8" cy="248.9" r="3.6"/><circle cx="867.1" cy="235.4" r="3.6"/><circle cx="876.1" cy="269.6" r="3.6"/>
</g>
<g fill="#F8766D">
<circle cx="776.6" cy="484.6" r="3.6"/><circle cx="781.8" cy="488.9" r="3.6"/><circle cx="996.9" cy="482.0" r="3.6"/><circle cx="676.5" cy="499.4" r="3.6"/><circle cx="670.0" cy="506.9" r="3.6"/><circle cx="703.1" cy="506.6" r="3.6"/><circle cx="722.3" cy="500.9" r="3.6"/><circle cx="706.5" cy="515.7" r="3.6"/><circle cx="713.4" cy="521.1" r="3.6"/><circle cx="700.0" cy="527.1" r="3.6"/><circle cx="699.1" cy="529.4" r="3.6"/><circle cx="679.4" cy="535.2" r="3.6"/><circle cx="765.1" cy="505.7" r="3.6"/><circle cx="768.6" cy="510.0" r="3.6"/><circle cx="767.7" cy="514.3" r="3.6"/><circle cx="761.4" cy="518.1" r="3.6"/><circle cx="751.4" cy="521.1" r="3.6"/><circle cx="753.1" cy="523.7" r="3.6"/><circle cx="778.5" cy="522.5" r="3.6"/><circle cx="792.6" cy="513.8" r="3.6"/><circle cx="796.5" cy="499.2" r="3.6"/><circle cx="800.6" cy="504.3" r="3.6"/><circle cx="802.9" cy="506.6" r="3.6"/><circle cx="812.3" cy="505.2" r="3.6"/><circle cx="808.0" cy="499.7" r="3.6"/><circle cx="830.3" cy="494.6" r="3.6"/><circle cx="807.1" cy="518.9" r="3.6"/><circle cx="802.5" cy="524.1" r="3.6"/><circle cx="814.5" cy="521.1" r="3.6"/><circle cx="817.4" cy="523.7" r="3.6"/><circle cx="814.0" cy="525.4" r="3.6"/><circle cx="823.9" cy="525.4" r="3.6"/><circle cx="830.3" cy="523.4" r="3.6"/><circle cx="833.7" cy="526.8" r="3.6"/><circle cx="838.3" cy="531.4" r="3.6"/><circle cx="825.1" cy="533.5" r="3.6"/><circle cx="868.9" cy="515.1" r="3.6"/><circle cx="884.3" cy="531.8" r="3.6"/><circle cx="851.7" cy="534.9" r="3.6"/><circle cx="852.6" cy="539.7" r="3.6"/><circle cx="861.5" cy="539.1" r="3.6"/><circle cx="841.4" cy="538.3" r="3.6"/><circle cx="838.5" cy="546.9" r="3.6"/><circle cx="846.1" cy="548.6" r="3.6"/><circle cx="823.4" cy="541.7" r="3.6"/><circle cx="829.4" cy="545.1" r="3.6"/><circle cx="825.1" cy="549.4" r="3.6"/><circle cx="820.0" cy="548.6" r="3.6"/><circle cx="869.7" cy="545.1" r="3.6"/><circle cx="721.4" cy="533.1" r="3.6"/><circle cx="723.1" cy="535.7" r="3.6"/><circle cx="747.1" cy="532.3" r="3.6"/><circle cx="747.7" cy="534.9" r="3.6"/><circle cx="760.3" cy="533.7" r="3.6"/><circle cx="783.1" cy="536.6" r="3.6"/><circle cx="787.4" cy="540.0" r="3.6"/><circle cx="790.9" cy="543.1" r="3.6"/><circle cx="784.9" cy="541.7" r="3.6"/><circle cx="798.1" cy="540.0" r="3.6"/><circle cx="809.7" cy="542.6" r="3.6"/><circle cx="805.4" cy="544.3" r="3.6"/><circle cx="812.3" cy="541.7" r="3.6"/><circle cx="779.4" cy="546.5" r="3.6"/><circle cx="796.5" cy="549.9" r="3.6"/><circle cx="802.0" cy="552.9" r="3.6"/><circle cx="802.9" cy="557.1" r="3.6"/><circle cx="699.5" cy="540.5" r="3.6"/><circle cx="706.9" cy="542.6" r="3.6"/><circle cx="710.3" cy="546.0" r="3.6"/><circle cx="704.3" cy="550.3" r="3.6"/><circle cx="707.7" cy="555.4" r="3.6"/><circle cx="711.1" cy="558.9" r="3.6"/><circle cx="716.3" cy="556.3" r="3.6"/><circle cx="721.4" cy="554.6" r="3.6"/><circle cx="693.7" cy="556.3" r="3.6"/><circle cx="699.1" cy="559.7" r="3.6"/><circle cx="700.9" cy="561.4" r="3.6"/><circle cx="734.3" cy="542.9" r="3.6"/><circle cx="737.2" cy="546.5" r="3.6"/><circle cx="729.1" cy="550.3" r="3.6"/><circle cx="750.2" cy="547.4" r="3.6"/><circle cx="746.3" cy="552.9" r="3.6"/><circle cx="760.0" cy="548.6" r="3.6"/><circle cx="763.4" cy="550.3" r="3.6"/><circle cx="757.4" cy="553.7" r="3.6"/><circle cx="752.3" cy="556.3" r="3.6"/><circle cx="764.3" cy="557.1" r="3.6"/><circle cx="770.3" cy="558.0" r="3.6"/><circle cx="773.7" cy="559.2" r="3.6"/><circle cx="760.0" cy="561.4" r="3.6"/><circle cx="757.9" cy="565.7" r="3.6"/><circle cx="726.6" cy="562.3" r="3.6"/><circle cx="734.3" cy="566.6" r="3.6"/><circle cx="740.3" cy="564.9" r="3.6"/><circle cx="744.6" cy="566.6" r="3.6"/><circle cx="745.4" cy="570.0" r="3.6"/><circle cx="736.9" cy="572.9" r="3.6"/><circle cx="756.2" cy="573.9" r="3.6"/><circle cx="764.3" cy="576.0" r="3.6"/><circle cx="762.6" cy="581.1" r="3.6"/><circle cx="754.3" cy="581.7" r="3.6"/><circle cx="744.6" cy="580.6" r="3.6"/><circle cx="770.3" cy="576.5" r="3.6"/><circle cx="775.4" cy="575.7" r="3.6"/><circle cx="779.7" cy="573.9" r="3.6"/><circle cx="785.7" cy="576.9" r="3.6"/><circle cx="786.6" cy="581.1" r="3.6"/><circle cx="778.0" cy="587.1" r="3.6"/><circle cx="778.9" cy="590.6" r="3.6"/><circle cx="778.0" cy="594.0" r="3.6"/><circle cx="784.0" cy="591.4" r="3.6"/><circle cx="789.1" cy="589.7" r="3.6"/><circle cx="796.5" cy="588.0" r="3.6"/><circle cx="802.3" cy="577.7" r="3.6"/><circle cx="802.9" cy="564.9" r="3.6"/><circle cx="806.3" cy="566.1" r="3.6"/><circle cx="803.7" cy="569.1" r="3.6"/><circle cx="801.1" cy="566.6" r="3.6"/><circle cx="817.4" cy="559.7" r="3.6"/><circle cx="814.0" cy="564.0" r="3.6"/><circle cx="820.9" cy="566.6" r="3.6"/><circle cx="826.9" cy="566.6" r="3.6"/><circle cx="831.1" cy="566.6" r="3.6"/><circle cx="835.8" cy="575.1" r="3.6"/><circle cx="825.1" cy="579.4" r="3.6"/><circle cx="828.6" cy="580.8" r="3.6"/><circle cx="813.1" cy="585.8" r="3.6"/><circle cx="826.9" cy="591.4" r="3.6"/><circle cx="831.1" cy="589.4" r="3.6"/><circle cx="828.6" cy="599.1" r="3.6"/><circle cx="847.4" cy="563.5" r="3.6"/><circle cx="855.5" cy="566.2" r="3.6"/><circle cx="862.0" cy="557.1" r="3.6"/><circle cx="862.5" cy="560.2" r="3.6"/><circle cx="870.1" cy="568.8" r="3.6"/><circle cx="877.9" cy="566.2" r="3.6"/><circle cx="883.4" cy="562.3" r="3.6"/><circle cx="889.4" cy="558.9" r="3.6"/><circle cx="862.9" cy="571.7" r="3.6"/><circle cx="861.1" cy="576.9" r="3.6"/><circle cx="865.4" cy="579.4" r="3.6"/><circle cx="875.7" cy="579.1" r="3.6"/><circle cx="846.6" cy="582.0" r="3.6"/><circle cx="851.7" cy="580.3" r="3.6"/><circle cx="848.3" cy="586.3" r="3.6"/><circle cx="862.0" cy="591.1" r="3.6"/><circle cx="871.8" cy="585.4" r="3.6"/><circle cx="869.4" cy="594.9" r="3.6"/><circle cx="881.7" cy="584.6" r="3.6"/><circle cx="886.0" cy="587.1" r="3.6"/><circle cx="887.7" cy="582.0" r="3.6"/><circle cx="891.1" cy="585.4" r="3.6"/><circle cx="854.3" cy="596.6" r="3.6"/><circle cx="866.3" cy="603.4" r="3.6"/><circle cx="876.9" cy="604.3" r="3.6"/><circle cx="883.4" cy="600.3" r="3.6"/><circle cx="891.1" cy="600.9" r="3.6"/><circle cx="873.1" cy="611.1" r="3.6"/><circle cx="841.4" cy="604.3" r="3.6"/><circle cx="834.6" cy="609.4" r="3.6"/><circle cx="832.0" cy="614.1" r="3.6"/><circle cx="843.7" cy="613.4" r="3.6"/><circle cx="840.2" cy="619.7" r="3.6"/><circle cx="858.6" cy="616.3" r="3.6"/><circle cx="823.9" cy="619.7" r="3.6"/><circle cx="822.6" cy="621.4" r="3.6"/><circle cx="847.4" cy="624.0" r="3.6"/><circle cx="850.9" cy="626.6" r="3.6"/><circle cx="856.9" cy="626.6" r="3.6"/><circle cx="869.7" cy="620.6" r="3.6"/><circle cx="867.1" cy="624.0" r="3.6"/><circle cx="872.3" cy="630.0" r="3.6"/><circle cx="885.1" cy="624.0" r="3.6"/><circle cx="889.4" cy="625.7" r="3.6"/><circle cx="881.7" cy="633.4" r="3.6"/><circle cx="887.7" cy="613.7" r="3.6"/><circle cx="826.9" cy="633.9" r="3.6"/><circle cx="848.3" cy="636.0" r="3.6"/><circle cx="857.7" cy="636.9" r="3.6"/><circle cx="806.3" cy="602.2" r="3.6"/><circle cx="788.3" cy="600.5" r="3.6"/><circle cx="766.5" cy="599.5" r="3.6"/><circle cx="728.8" cy="584.6" r="3.6"/><circle cx="694.5" cy="586.8" r="3.6"/><circle cx="742.0" cy="591.8" r="3.6"/><circle cx="736.9" cy="593.5" r="3.6"/><circle cx="731.7" cy="595.7" r="3.6"/><circle cx="717.1" cy="602.9" r="3.6"/><circle cx="726.6" cy="605.1" r="3.6"/><circle cx="732.6" cy="605.1" r="3.6"/><circle cx="739.4" cy="606.5" r="3.6"/><circle cx="725.7" cy="612.0" r="3.6"/><circle cx="730.9" cy="614.6" r="3.6"/><circle cx="736.0" cy="614.6" r="3.6"/><circle cx="751.1" cy="605.1" r="3.6"/><circle cx="756.6" cy="606.0" r="3.6"/><circle cx="754.9" cy="612.5" r="3.6"/><circle cx="778.0" cy="609.9" r="3.6"/><circle cx="796.5" cy="612.0" r="3.6"/><circle cx="794.3" cy="615.8" r="3.6"/><circle cx="799.8" cy="618.9" r="3.6"/><circle cx="779.7" cy="616.3" r="3.6"/><circle cx="784.9" cy="618.9" r="3.6"/><circle cx="779.7" cy="620.6" r="3.6"/><circle cx="777.1" cy="624.9" r="3.6"/><circle cx="806.3" cy="626.6" r="3.6"/><circle cx="744.6" cy="620.6" r="3.6"/><circle cx="748.9" cy="623.7" r="3.6"/><circle cx="753.1" cy="624.3" r="3.6"/><circle cx="730.9" cy="624.9" r="3.6"/><circle cx="682.9" cy="624.9" r="3.6"/><circle cx="687.1" cy="624.9" r="3.6"/><circle cx="709.4" cy="619.7" r="3.6"/><circle cx="704.3" cy="621.4" r="3.6"/><circle cx="700.0" cy="624.0" r="3.6"/><circle cx="697.4" cy="629.1" r="3.6"/><circle cx="701.7" cy="631.7" r="3.6"/><circle cx="705.5" cy="633.4" r="3.6"/><circle cx="713.7" cy="637.4" r="3.6"/><circle cx="725.4" cy="634.8" r="3.6"/><circle cx="763.9" cy="631.2" r="3.6"/><circle cx="748.0" cy="635.7" r="3.6"/><circle cx="755.7" cy="635.1" r="3.6"/><circle cx="791.4" cy="631.7" r="3.6"/><circle cx="803.7" cy="634.3" r="3.6"/><circle cx="796.9" cy="637.7" r="3.6"/><circle cx="772.9" cy="638.6" r="3.6"/><circle cx="734.3" cy="638.6" r="3.6"/><circle cx="915.1" cy="514.8" r="3.6"/><circle cx="907.9" cy="528.0" r="3.6"/><circle cx="904.0" cy="538.3" r="3.6"/><circle cx="919.4" cy="536.6" r="3.6"/><circle cx="922.9" cy="540.9" r="3.6"/><circle cx="959.7" cy="528.9" r="3.6"/><circle cx="996.6" cy="530.6" r="3.6"/><circle cx="1003.4" cy="548.6" r="3.6"/><circle cx="973.4" cy="540.9" r="3.6"/><circle cx="893.7" cy="556.3" r="3.6"/><circle cx="913.4" cy="558.5" r="3.6"/><circle cx="930.6" cy="558.0" r="3.6"/><circle cx="927.1" cy="562.8" r="3.6"/><circle cx="934.0" cy="564.0" r="3.6"/><circle cx="939.1" cy="555.4" r="3.6"/><circle cx="940.9" cy="557.7" r="3.6"/><circle cx="952.0" cy="566.6" r="3.6"/><circle cx="955.4" cy="566.9" r="3.6"/><circle cx="946.9" cy="571.7" r="3.6"/><circle cx="940.9" cy="574.3" r="3.6"/><circle cx="938.3" cy="577.2" r="3.6"/><circle cx="938.6" cy="582.3" r="3.6"/><circle cx="943.4" cy="585.4" r="3.6"/><circle cx="948.6" cy="582.9" r="3.6"/><circle cx="953.7" cy="579.9" r="3.6"/><circle cx="952.0" cy="577.7" r="3.6"/><circle cx="952.9" cy="588.9" r="3.6"/><circle cx="959.2" cy="589.2" r="3.6"/><circle cx="903.1" cy="579.4" r="3.6"/><circle cx="901.4" cy="582.9" r="3.6"/><circle cx="910.0" cy="583.7" r="3.6"/><circle cx="910.5" cy="588.0" r="3.6"/><circle cx="892.9" cy="585.4" r="3.6"/><circle cx="980.6" cy="555.4" r="3.6"/><circle cx="988.5" cy="560.6" r="3.6"/><circle cx="985.4" cy="565.7" r="3.6"/><circle cx="993.1" cy="566.1" r="3.6"/><circle cx="1012.5" cy="557.1" r="3.6"/><circle cx="977.4" cy="579.8" r="3.6"/><circle cx="989.7" cy="580.8" r="3.6"/><circle cx="993.1" cy="584.6" r="3.6"/><circle cx="996.6" cy="588.0" r="3.6"/><circle cx="1002.6" cy="590.1" r="3.6"/><circle cx="1007.7" cy="590.1" r="3.6"/><circle cx="1018.0" cy="585.4" r="3.6"/><circle cx="1018.9" cy="588.0" r="3.6"/><circle cx="1029.7" cy="588.3" r="3.6"/><circle cx="1030.5" cy="571.2" r="3.6"/><circle cx="1032.6" cy="572.9" r="3.6"/><circle cx="1025.7" cy="576.9" r="3.6"/><circle cx="1046.6" cy="598.6" r="3.6"/><circle cx="965.7" cy="594.9" r="3.6"/><circle cx="971.7" cy="595.4" r="3.6"/><circle cx="981.1" cy="595.4" r="3.6"/><circle cx="986.8" cy="599.1" r="3.6"/><circle cx="995.7" cy="599.1" r="3.6"/><circle cx="990.2" cy="605.1" r="3.6"/><circle cx="943.4" cy="602.6" r="3.6"/><circle cx="946.9" cy="601.2" r="3.6"/><circle cx="935.7" cy="608.1" r="3.6"/><circle cx="953.4" cy="600.0" r="3.6"/><circle cx="959.7" cy="600.0" r="3.6"/><circle cx="955.4" cy="604.3" r="3.6"/><circle cx="972.6" cy="602.2" r="3.6"/><circle cx="971.7" cy="609.4" r="3.6"/><circle cx="979.4" cy="605.7" r="3.6"/><circle cx="978.9" cy="612.5" r="3.6"/><circle cx="903.1" cy="596.6" r="3.6"/><circle cx="909.1" cy="597.4" r="3.6"/><circle cx="908.3" cy="601.7" r="3.6"/><circle cx="903.1" cy="605.1" r="3.6"/><circle cx="898.9" cy="608.6" r="3.6"/><circle cx="894.6" cy="603.4" r="3.6"/><circle cx="910.9" cy="605.1" r="3.6"/><circle cx="916.0" cy="605.1" r="3.6"/><circle cx="1003.4" cy="601.2" r="3.6"/><circle cx="1004.3" cy="606.0" r="3.6"/><circle cx="1001.7" cy="610.3" r="3.6"/><circle cx="1006.0" cy="612.0" r="3.6"/><circle cx="1010.3" cy="615.4" r="3.6"/><circle cx="1016.3" cy="617.5" r="3.6"/><circle cx="1006.0" cy="616.3" r="3.6"/><circle cx="993.5" cy="614.6" r="3.6"/><circle cx="1024.9" cy="609.9" r="3.6"/><circle cx="1027.4" cy="613.2" r="3.6"/><circle cx="1036.0" cy="618.9" r="3.6"/><circle cx="954.1" cy="614.9" r="3.6"/><circle cx="982.3" cy="620.2" r="3.6"/><circle cx="995.7" cy="621.8" r="3.6"/><circle cx="995.7" cy="627.9" r="3.6"/><circle cx="987.1" cy="628.6" r="3.6"/><circle cx="961.4" cy="623.5" r="3.6"/><circle cx="966.6" cy="625.7" r="3.6"/><circle cx="970.0" cy="625.7" r="3.6"/><circle cx="967.4" cy="628.6" r="3.6"/><circle cx="1007.7" cy="623.1" r="3.6"/><circle cx="1010.3" cy="625.7" r="3.6"/><circle cx="903.7" cy="618.9" r="3.6"/><circle cx="916.9" cy="624.0" r="3.6"/><circle cx="913.4" cy="628.3" r="3.6"/><circle cx="917.7" cy="632.6" r="3.6"/><circle cx="924.1" cy="626.1" r="3.6"/><circle cx="930.1" cy="624.5" r="3.6"/><circle cx="931.4" cy="627.4" r="3.6"/><circle cx="939.1" cy="628.8" r="3.6"/><circle cx="946.0" cy="631.4" r="3.6"/><circle cx="928.9" cy="636.0" r="3.6"/><circle cx="904.0" cy="633.4" r="3.6"/><circle cx="906.6" cy="634.6" r="3.6"/><circle cx="898.0" cy="638.6" r="3.6"/><circle cx="972.6" cy="635.1" r="3.6"/><circle cx="976.9" cy="636.0" r="3.6"/><circle cx="985.9" cy="635.7" r="3.6"/><circle cx="964.0" cy="638.6" r="3.6"/><circle cx="1005.7" cy="636.9" r="3.6"/><circle cx="734.3" cy="641.4" r="3.6"/><circle cx="760.0" cy="640.9" r="3.6"/><circle cx="774.1" cy="641.4" r="3.6"/><circle cx="781.4" cy="642.6" r="3.6"/><circle cx="789.1" cy="642.1" r="3.6"/><circle cx="797.7" cy="641.7" r="3.6"/><circle cx="802.9" cy="643.4" r="3.6"/><circle cx="805.1" cy="648.6" r="3.6"/><circle cx="748.9" cy="647.7" r="3.6"/><circle cx="752.3" cy="648.6" r="3.6"/><circle cx="757.1" cy="646.5" r="3.6"/><circle cx="767.4" cy="647.7" r="3.6"/><circle cx="775.8" cy="648.2" r="3.6"/><circle cx="793.4" cy="651.1" r="3.6"/><circle cx="794.6" cy="652.3" r="3.6"/><circle cx="760.0" cy="654.1" r="3.6"/><circle cx="752.8" cy="656.3" r="3.6"/><circle cx="754.9" cy="657.1" r="3.6"/><circle cx="777.7" cy="655.1" r="3.6"/><circle cx="773.4" cy="657.7" r="3.6"/><circle cx="787.4" cy="658.9" r="3.6"/><circle cx="784.9" cy="676.0" r="3.6"/><circle cx="783.7" cy="677.4" r="3.6"/><circle cx="805.4" cy="672.1" r="3.6"/><circle cx="811.8" cy="672.9" r="3.6"/><circle cx="832.0" cy="642.6" r="3.6"/><circle cx="841.4" cy="640.9" r="3.6"/><circle cx="856.0" cy="640.9" r="3.6"/><circle cx="830.3" cy="652.9" r="3.6"/><circle cx="836.3" cy="653.4" r="3.6"/><circle cx="847.1" cy="647.7" r="3.6"/><circle cx="850.9" cy="652.0" r="3.6"/><circle cx="855.1" cy="653.7" r="3.6"/><circle cx="858.6" cy="650.3" r="3.6"/><circle cx="862.0" cy="646.9" r="3.6"/><circle cx="856.9" cy="657.1" r="3.6"/><circle cx="855.7" cy="662.3" r="3.6"/><circle cx="843.1" cy="658.5" r="3.6"/><circle cx="842.3" cy="661.8" r="3.6"/><circle cx="863.7" cy="664.0" r="3.6"/><circle cx="859.9" cy="671.4" r="3.6"/><circle cx="838.9" cy="673.1" r="3.6"/><circle cx="846.2" cy="673.4" r="3.6"/><circle cx="871.4" cy="672.9" r="3.6"/><circle cx="876.9" cy="648.6" r="3.6"/><circle cx="883.4" cy="649.4" r="3.6"/><circle cx="890.3" cy="647.7" r="3.6"/><circle cx="876.9" cy="658.0" r="3.6"/><circle cx="881.7" cy="664.0" r="3.6"/><circle cx="886.0" cy="662.3" r="3.6"/><circle cx="890.3" cy="658.0" r="3.6"/><circle cx="884.3" cy="670.9" r="3.6"/><circle cx="876.6" cy="688.3" r="3.6"/><circle cx="880.9" cy="687.1" r="3.6"/><circle cx="884.3" cy="685.4" r="3.6"/><circle cx="888.6" cy="691.9" r="3.6"/><circle cx="891.7" cy="683.7" r="3.6"/><circle cx="898.9" cy="640.9" r="3.6"/><circle cx="905.7" cy="646.0" r="3.6"/><circle cx="910.9" cy="646.9" r="3.6"/><circle cx="904.9" cy="651.1" r="3.6"/><circle cx="904.9" cy="655.4" r="3.6"/><circle cx="912.6" cy="656.3" r="3.6"/><circle cx="910.0" cy="660.6" r="3.6"/><circle cx="907.4" cy="664.0" r="3.6"/><circle cx="892.9" cy="656.3" r="3.6"/><circle cx="894.6" cy="661.8" r="3.6"/><circle cx="920.3" cy="642.6" r="3.6"/><circle cx="923.7" cy="646.0" r="3.6"/><circle cx="922.0" cy="650.6" r="3.6"/><circle cx="928.3" cy="652.3" r="3.6"/><circle cx="936.2" cy="653.7" r="3.6"/><circle cx="919.4" cy="658.9" r="3.6"/><circle cx="918.6" cy="663.1" r="3.6"/><circle cx="922.0" cy="665.4" r="3.6"/><circle cx="919.4" cy="667.4" r="3.6"/><circle cx="944.3" cy="648.2" r="3.6"/><circle cx="946.9" cy="652.0" r="3.6"/><circle cx="948.6" cy="653.4" r="3.6"/><circle cx="954.2" cy="656.3" r="3.6"/><circle cx="942.2" cy="661.8" r="3.6"/><circle cx="937.4" cy="670.0" r="3.6"/><circle cx="935.7" cy="672.6" r="3.6"/><circle cx="898.0" cy="675.1" r="3.6"/><circle cx="911.2" cy="675.7" r="3.6"/><circle cx="920.3" cy="674.3" r="3.6"/><circle cx="926.3" cy="679.8" r="3.6"/><circle cx="894.6" cy="682.9" r="3.6"/><circle cx="898.9" cy="683.2" r="3.6"/><circle cx="960.6" cy="647.7" r="3.6"/><circle cx="963.1" cy="643.4" r="3.6"/><circle cx="966.6" cy="640.9" r="3.6"/><circle cx="991.4" cy="643.1" r="3.6"/><circle cx="972.6" cy="654.6" r="3.6"/><circle cx="972.2" cy="659.4" r="3.6"/><circle cx="976.0" cy="660.6" r="3.6"/><circle cx="981.1" cy="656.8" r="3.6"/><circle cx="983.7" cy="658.9" r="3.6"/><circle cx="981.1" cy="660.9" r="3.6"/><circle cx="992.3" cy="659.7" r="3.6"/><circle cx="994.9" cy="658.9" r="3.6"/><circle cx="1013.7" cy="649.4" r="3.6"/><circle cx="909.1" cy="699.7" r="3.6"/><circle cx="911.7" cy="702.6" r="3.6"/><circle cx="915.1" cy="701.7" r="3.6"/><circle cx="919.9" cy="696.9" r="3.6"/><circle cx="896.8" cy="707.7" r="3.6"/><circle cx="899.2" cy="706.3" r="3.6"/><circle cx="1059.1" cy="655.4" r="3.6"/>
</g>
<g fill="#D89000">
<circle cx="757.1" cy="350.3" r="3.6"/><circle cx="765.1" cy="352.9" r="3.6"/><circle cx="767.7" cy="355.1" r="3.6"/><circle cx="745.4" cy="358.6" r="3.6"/><circle cx="742.0" cy="360.8" r="3.6"/><circle cx="737.4" cy="362.5" r="3.6"/><circle cx="733.1" cy="367.5" r="3.6"/><circle cx="755.4" cy="368.5" r="3.6"/><circle cx="750.6" cy="371.1" r="3.6"/><circle cx="686.3" cy="368.9" r="3.6"/><circle cx="690.6" cy="371.8" r="3.6"/><circle cx="693.1" cy="376.2" r="3.6"/><circle cx="698.3" cy="372.3" r="3.6"/><circle cx="701.7" cy="373.1" r="3.6"/><circle cx="705.1" cy="367.1" r="3.6"/><circle cx="707.7" cy="366.8" r="3.6"/><circle cx="715.4" cy="368.0" r="3.6"/><circle cx="705.1" cy="380.0" r="3.6"/><circle cx="710.3" cy="381.4" r="3.6"/><circle cx="713.7" cy="380.3" r="3.6"/><circle cx="721.4" cy="388.1" r="3.6"/><circle cx="727.4" cy="386.9" r="3.6"/><circle cx="730.0" cy="386.9" r="3.6"/><circle cx="740.3" cy="382.6" r="3.6"/><circle cx="737.7" cy="386.0" r="3.6"/><circle cx="738.6" cy="394.2" r="3.6"/><circle cx="737.2" cy="397.5" r="3.6"/><circle cx="754.0" cy="390.3" r="3.6"/><circle cx="759.7" cy="394.6" r="3.6"/><circle cx="753.1" cy="398.0" r="3.6"/><circle cx="746.6" cy="404.0" r="3.6"/><circle cx="682.9" cy="395.4" r="3.6"/><circle cx="684.6" cy="394.9" r="3.6"/><circle cx="691.9" cy="392.5" r="3.6"/><circle cx="710.8" cy="395.4" r="3.6"/><circle cx="682.0" cy="402.3" r="3.6"/><circle cx="678.1" cy="406.1" r="3.6"/><circle cx="688.9" cy="402.8" r="3.6"/><circle cx="694.0" cy="402.8" r="3.6"/><circle cx="703.4" cy="403.1" r="3.6"/><circle cx="700.5" cy="407.4" r="3.6"/><circle cx="682.9" cy="412.9" r="3.6"/><circle cx="718.9" cy="398.5" r="3.6"/><circle cx="715.4" cy="404.0" r="3.6"/><circle cx="720.6" cy="404.0" r="3.6"/><circle cx="725.4" cy="404.9" r="3.6"/><circle cx="733.9" cy="408.8" r="3.6"/><circle cx="730.0" cy="411.2" r="3.6"/><circle cx="716.3" cy="413.8" r="3.6"/><circle cx="721.4" cy="416.9" r="3.6"/><circle cx="725.7" cy="416.0" r="3.6"/><circle cx="731.4" cy="419.8" r="3.6"/><circle cx="739.8" cy="423.2" r="3.6"/><circle cx="690.1" cy="421.5" r="3.6"/><circle cx="691.1" cy="424.6" r="3.6"/><circle cx="696.9" cy="430.6" r="3.6"/><circle cx="706.9" cy="426.8" r="3.6"/><circle cx="710.3" cy="424.6" r="3.6"/><circle cx="717.1" cy="424.6" r="3.6"/><circle cx="720.6" cy="427.1" r="3.6"/><circle cx="721.9" cy="429.7" r="3.6"/><circle cx="727.9" cy="428.0" r="3.6"/><circle cx="722.3" cy="436.6" r="3.6"/><circle cx="671.7" cy="434.0" r="3.6"/><circle cx="673.4" cy="438.3" r="3.6"/><circle cx="694.0" cy="442.1" r="3.6"/><circle cx="700.9" cy="441.4" r="3.6"/><circle cx="703.4" cy="441.4" r="3.6"/><circle cx="710.3" cy="440.9" r="3.6"/><circle cx="713.7" cy="443.1" r="3.6"/><circle cx="712.9" cy="448.6" r="3.6"/><circle cx="707.7" cy="451.1" r="3.6"/><circle cx="692.3" cy="446.9" r="3.6"/><circle cx="692.6" cy="448.9" r="3.6"/><circle cx="700.9" cy="458.0" r="3.6"/><circle cx="705.1" cy="461.4" r="3.6"/><circle cx="708.6" cy="462.6" r="3.6"/><circle cx="713.7" cy="462.6" r="3.6"/><circle cx="676.5" cy="463.5" r="3.6"/><circle cx="691.9" cy="470.9" r="3.6"/><circle cx="704.3" cy="470.3" r="3.6"/><circle cx="700.3" cy="473.9" r="3.6"/><circle cx="662.6" cy="475.1" r="3.6"/><circle cx="661.9" cy="477.7" r="3.6"/><circle cx="684.6" cy="484.6" r="3.6"/><circle cx="687.7" cy="485.1" r="3.6"/><circle cx="701.7" cy="491.4" r="3.6"/><circle cx="723.7" cy="485.9" r="3.6"/><circle cx="746.3" cy="443.4" r="3.6"/><circle cx="754.5" cy="444.3" r="3.6"/><circle cx="733.4" cy="451.1" r="3.6"/><circle cx="739.4" cy="447.7" r="3.6"/><circle cx="741.1" cy="451.1" r="3.6"/><circle cx="742.9" cy="455.4" r="3.6"/><circle cx="747.1" cy="458.9" r="3.6"/><circle cx="757.9" cy="454.1" r="3.6"/><circle cx="733.4" cy="464.0" r="3.6"/><circle cx="742.5" cy="464.3" r="3.6"/><circle cx="727.4" cy="468.3" r="3.6"/><circle cx="726.6" cy="471.7" r="3.6"/><circle cx="729.1" cy="475.1" r="3.6"/><circle cx="734.3" cy="470.9" r="3.6"/><circle cx="737.7" cy="471.7" r="3.6"/><circle cx="747.1" cy="472.2" r="3.6"/><circle cx="751.4" cy="476.3" r="3.6"/><circle cx="756.6" cy="476.3" r="3.6"/><circle cx="761.7" cy="466.6" r="3.6"/><circle cx="766.5" cy="475.5" r="3.6"/><circle cx="769.9" cy="395.4" r="3.6"/><circle cx="777.1" cy="399.7" r="3.6"/><circle cx="773.7" cy="404.0" r="3.6"/><circle cx="769.9" cy="408.3" r="3.6"/><circle cx="763.1" cy="407.4" r="3.6"/><circle cx="763.4" cy="410.9" r="3.6"/><circle cx="790.5" cy="396.3" r="3.6"/><circle cx="797.7" cy="398.0" r="3.6"/><circle cx="784.0" cy="404.0" r="3.6"/><circle cx="788.3" cy="401.4" r="3.6"/><circle cx="790.9" cy="404.9" r="3.6"/><circle cx="776.8" cy="414.3" r="3.6"/><circle cx="786.9" cy="413.8" r="3.6"/><circle cx="762.6" cy="418.6" r="3.6"/><circle cx="773.7" cy="421.5" r="3.6"/><circle cx="776.3" cy="427.1" r="3.6"/><circle cx="775.4" cy="433.5" r="3.6"/><circle cx="766.5" cy="431.4" r="3.6"/><circle cx="783.7" cy="423.2" r="3.6"/><circle cx="784.0" cy="433.1" r="3.6"/><circle cx="788.8" cy="432.8" r="3.6"/><circle cx="797.4" cy="383.1" r="3.6"/><circle cx="802.9" cy="385.1" r="3.6"/><circle cx="806.3" cy="380.9" r="3.6"/><circle cx="812.3" cy="380.9" r="3.6"/><circle cx="802.9" cy="390.3" r="3.6"/><circle cx="807.1" cy="392.9" r="3.6"/><circle cx="809.7" cy="395.4" r="3.6"/><circle cx="815.4" cy="393.4" r="3.6"/><circle cx="837.1" cy="382.6" r="3.6"/><circle cx="838.9" cy="385.1" r="3.6"/><circle cx="832.0" cy="396.3" r="3.6"/><circle cx="836.3" cy="394.6" r="3.6"/><circle cx="838.0" cy="397.1" r="3.6"/><circle cx="844.0" cy="393.7" r="3.6"/><circle cx="847.4" cy="392.0" r="3.6"/><circle cx="808.3" cy="404.0" r="3.6"/><circle cx="816.1" cy="408.8" r="3.6"/><circle cx="824.3" cy="403.7" r="3.6"/><circle cx="827.7" cy="408.3" r="3.6"/><circle cx="826.9" cy="411.7" r="3.6"/><circle cx="829.4" cy="415.1" r="3.6"/><circle cx="826.5" cy="419.8" r="3.6"/><circle cx="838.0" cy="409.5" r="3.6"/><circle cx="847.8" cy="406.1" r="3.6"/><circle cx="799.4" cy="412.9" r="3.6"/><circle cx="802.9" cy="414.6" r="3.6"/><circle cx="809.7" cy="421.1" r="3.6"/><circle cx="810.6" cy="426.3" r="3.6"/><circle cx="805.4" cy="429.7" r="3.6"/><circle cx="811.1" cy="432.3" r="3.6"/><circle cx="811.4" cy="435.7" r="3.6"/><circle cx="807.1" cy="439.1" r="3.6"/><circle cx="802.9" cy="437.9" r="3.6"/><circle cx="797.7" cy="435.7" r="3.6"/><circle cx="818.3" cy="427.1" r="3.6"/><circle cx="822.6" cy="426.3" r="3.6"/><circle cx="852.6" cy="414.3" r="3.6"/><circle cx="859.4" cy="413.1" r="3.6"/><circle cx="852.1" cy="418.6" r="3.6"/><circle cx="844.9" cy="429.4" r="3.6"/><circle cx="857.7" cy="433.1" r="3.6"/><circle cx="864.6" cy="436.9" r="3.6"/><circle cx="870.6" cy="436.9" r="3.6"/><circle cx="874.5" cy="407.4" r="3.6"/><circle cx="864.6" cy="371.9" r="3.6"/><circle cx="873.1" cy="366.8" r="3.6"/><circle cx="879.1" cy="365.9" r="3.6"/><circle cx="874.9" cy="378.3" r="3.6"/><circle cx="826.9" cy="434.9" r="3.6"/><circle cx="825.1" cy="438.3" r="3.6"/><circle cx="830.3" cy="442.6" r="3.6"/><circle cx="833.7" cy="446.0" r="3.6"/><circle cx="839.7" cy="448.9" r="3.6"/><circle cx="831.1" cy="452.0" r="3.6"/><circle cx="802.5" cy="447.7" r="3.6"/><circle cx="769.4" cy="445.1" r="3.6"/><circle cx="772.0" cy="449.9" r="3.6"/><circle cx="775.8" cy="450.3" r="3.6"/><circle cx="785.7" cy="448.9" r="3.6"/><circle cx="787.4" cy="450.6" r="3.6"/><circle cx="817.4" cy="452.0" r="3.6"/><circle cx="814.0" cy="456.3" r="3.6"/><circle cx="821.7" cy="460.6" r="3.6"/><circle cx="845.4" cy="455.4" r="3.6"/><circle cx="850.9" cy="448.9" r="3.6"/><circle cx="854.3" cy="449.4" r="3.6"/><circle cx="857.7" cy="455.1" r="3.6"/><circle cx="863.2" cy="455.8" r="3.6"/><circle cx="783.1" cy="460.9" r="3.6"/><circle cx="787.4" cy="461.9" r="3.6"/><circle cx="793.4" cy="464.9" r="3.6"/><circle cx="776.3" cy="466.6" r="3.6"/><circle cx="781.4" cy="470.0" r="3.6"/><circle cx="777.1" cy="475.1" r="3.6"/><circle cx="778.0" cy="481.1" r="3.6"/><circle cx="796.0" cy="473.4" r="3.6"/><circle cx="789.1" cy="476.9" r="3.6"/><circle cx="803.2" cy="476.0" r="3.6"/><circle cx="818.3" cy="469.1" r="3.6"/><circle cx="814.9" cy="479.4" r="3.6"/><circle cx="833.7" cy="462.3" r="3.6"/><circle cx="830.3" cy="464.0" r="3.6"/><circle cx="827.7" cy="467.4" r="3.6"/><circle cx="829.4" cy="470.9" r="3.6"/><circle cx="833.7" cy="475.1" r="3.6"/><circle cx="840.6" cy="480.3" r="3.6"/><circle cx="845.7" cy="477.4" r="3.6"/><circle cx="859.4" cy="461.4" r="3.6"/><circle cx="854.3" cy="466.6" r="3.6"/><circle cx="860.3" cy="467.4" r="3.6"/><circle cx="855.1" cy="471.7" r="3.6"/><circle cx="856.9" cy="476.0" r="3.6"/><circle cx="856.0" cy="482.9" r="3.6"/><circle cx="853.4" cy="482.5" r="3.6"/><circle cx="875.7" cy="458.0" r="3.6"/><circle cx="881.7" cy="459.7" r="3.6"/><circle cx="874.9" cy="463.5" r="3.6"/><circle cx="871.4" cy="476.0" r="3.6"/><circle cx="876.6" cy="476.9" r="3.6"/><circle cx="887.7" cy="473.4" r="3.6"/><circle cx="885.1" cy="480.6" r="3.6"/><circle cx="798.6" cy="485.4" r="3.6"/><circle cx="795.1" cy="488.9" r="3.6"/><circle cx="828.6" cy="490.1" r="3.6"/><circle cx="805.4" cy="491.4" r="3.6"/><circle cx="742.0" cy="490.6" r="3.6"/><circle cx="751.4" cy="489.7" r="3.6"/><circle cx="882.6" cy="488.0" r="3.6"/><circle cx="892.9" cy="398.0" r="3.6"/><circle cx="936.6" cy="406.6" r="3.6"/><circle cx="932.8" cy="409.1" r="3.6"/><circle cx="898.9" cy="413.4" r="3.6"/><circle cx="904.9" cy="414.6" r="3.6"/><circle cx="910.0" cy="416.9" r="3.6"/><circle cx="914.3" cy="420.3" r="3.6"/><circle cx="918.6" cy="423.7" r="3.6"/><circle cx="922.5" cy="426.8" r="3.6"/><circle cx="898.5" cy="421.1" r="3.6"/><circle cx="970.9" cy="409.1" r="3.6"/><circle cx="964.9" cy="420.6" r="3.6"/><circle cx="962.3" cy="424.1" r="3.6"/><circle cx="978.2" cy="423.7" r="3.6"/><circle cx="965.7" cy="432.3" r="3.6"/><circle cx="1004.3" cy="422.9" r="3.6"/><circle cx="996.9" cy="437.4" r="3.6"/><circle cx="898.9" cy="433.1" r="3.6"/><circle cx="901.8" cy="438.8" r="3.6"/><circle cx="892.9" cy="441.7" r="3.6"/><circle cx="906.6" cy="445.1" r="3.6"/><circle cx="912.6" cy="443.1" r="3.6"/><circle cx="917.2" cy="449.9" r="3.6"/><circle cx="919.4" cy="432.6" r="3.6"/><circle cx="932.3" cy="430.6" r="3.6"/><circle cx="935.7" cy="433.1" r="3.6"/><circle cx="962.8" cy="442.6" r="3.6"/><circle cx="928.9" cy="446.0" r="3.6"/><circle cx="934.0" cy="447.7" r="3.6"/><circle cx="939.1" cy="447.7" r="3.6"/><circle cx="932.3" cy="451.1" r="3.6"/><circle cx="946.5" cy="451.7" r="3.6"/><circle cx="950.8" cy="451.7" r="3.6"/><circle cx="934.3" cy="457.1" r="3.6"/><circle cx="931.4" cy="461.9" r="3.6"/><circle cx="974.3" cy="452.3" r="3.6"/><circle cx="976.3" cy="455.4" r="3.6"/><circle cx="967.1" cy="459.2" r="3.6"/><circle cx="967.4" cy="464.9" r="3.6"/><circle cx="954.1" cy="460.9" r="3.6"/><circle cx="956.8" cy="467.1" r="3.6"/><circle cx="897.1" cy="458.0" r="3.6"/><circle cx="895.8" cy="461.4" r="3.6"/><circle cx="906.6" cy="470.0" r="3.6"/><circle cx="912.6" cy="470.0" r="3.6"/><circle cx="917.7" cy="467.1" r="3.6"/><circle cx="916.0" cy="475.1" r="3.6"/><circle cx="898.9" cy="475.7" r="3.6"/><circle cx="906.6" cy="476.9" r="3.6"/><circle cx="906.6" cy="480.3" r="3.6"/><circle cx="961.4" cy="474.3" r="3.6"/><circle cx="964.0" cy="476.9" r="3.6"/><circle cx="976.9" cy="471.7" r="3.6"/><circle cx="977.7" cy="477.4" r="3.6"/><circle cx="989.4" cy="480.3" r="3.6"/><circle cx="994.9" cy="481.7" r="3.6"/><circle cx="919.4" cy="485.9" r="3.6"/><circle cx="929.7" cy="488.9" r="3.6"/><circle cx="927.1" cy="488.9" r="3.6"/><circle cx="944.8" cy="485.8" r="3.6"/><circle cx="955.4" cy="484.6" r="3.6"/><circle cx="974.8" cy="489.7" r="3.6"/><circle cx="1011.1" cy="490.6" r="3.6"/><circle cx="1045.9" cy="487.7" r="3.6"/><circle cx="1068.9" cy="473.8" r="3.6"/><circle cx="673.4" cy="497.1" r="3.6"/><circle cx="668.3" cy="512.2" r="3.6"/><circle cx="677.4" cy="516.9" r="3.6"/><circle cx="684.9" cy="523.2" r="3.6"/><circle cx="702.6" cy="494.6" r="3.6"/><circle cx="706.9" cy="495.4" r="3.6"/><circle cx="703.1" cy="499.7" r="3.6"/><circle cx="704.3" cy="522.5" r="3.6"/><circle cx="740.3" cy="503.7" r="3.6"/><circle cx="742.9" cy="494.6" r="3.6"/><circle cx="751.4" cy="494.6" r="3.6"/><circle cx="762.6" cy="496.3" r="3.6"/><circle cx="763.4" cy="500.9" r="3.6"/><circle cx="775.4" cy="508.6" r="3.6"/><circle cx="790.9" cy="494.1" r="3.6"/><circle cx="805.4" cy="494.1" r="3.6"/><circle cx="840.1" cy="499.4" r="3.6"/><circle cx="856.0" cy="494.6" r="3.6"/><circle cx="878.3" cy="494.1" r="3.6"/><circle cx="825.1" cy="516.0" r="3.6"/><circle cx="829.4" cy="517.4" r="3.6"/><circle cx="826.9" cy="518.6" r="3.6"/><circle cx="841.1" cy="519.8" r="3.6"/><circle cx="852.9" cy="523.7" r="3.6"/><circle cx="861.5" cy="511.4" r="3.6"/><circle cx="868.3" cy="514.3" r="3.6"/><circle cx="874.0" cy="527.1" r="3.6"/><circle cx="883.1" cy="528.9" r="3.6"/><circle cx="890.8" cy="523.4" r="3.6"/><circle cx="873.1" cy="549.4" r="3.6"/><circle cx="882.6" cy="550.6" r="3.6"/><circle cx="895.4" cy="495.8" r="3.6"/><circle cx="894.6" cy="505.4" r="3.6"/><circle cx="892.9" cy="523.7" r="3.6"/><circle cx="930.6" cy="492.9" r="3.6"/><circle cx="950.3" cy="494.6" r="3.6"/><circle cx="950.3" cy="498.9" r="3.6"/><circle cx="935.7" cy="499.7" r="3.6"/><circle cx="941.7" cy="500.6" r="3.6"/><circle cx="934.0" cy="505.4" r="3.6"/><circle cx="941.7" cy="508.3" r="3.6"/><circle cx="949.1" cy="506.9" r="3.6"/><circle cx="957.1" cy="504.9" r="3.6"/><circle cx="927.1" cy="512.2" r="3.6"/><circle cx="929.7" cy="517.7" r="3.6"/><circle cx="934.9" cy="520.3" r="3.6"/><circle cx="944.3" cy="518.1" r="3.6"/><circle cx="940.9" cy="523.2" r="3.6"/><circle cx="958.0" cy="512.6" r="3.6"/><circle cx="960.6" cy="515.1" r="3.6"/><circle cx="927.1" cy="525.4" r="3.6"/><circle cx="930.6" cy="531.8" r="3.6"/><circle cx="923.7" cy="532.8" r="3.6"/><circle cx="921.1" cy="535.7" r="3.6"/><circle cx="912.9" cy="529.4" r="3.6"/><circle cx="953.7" cy="525.4" r="3.6"/><circle cx="952.0" cy="531.8" r="3.6"/><circle cx="967.4" cy="524.2" r="3.6"/><circle cx="975.5" cy="526.3" r="3.6"/><circle cx="974.3" cy="536.1" r="3.6"/><circle cx="971.2" cy="540.9" r="3.6"/><circle cx="957.7" cy="542.2" r="3.6"/><circle cx="958.9" cy="547.7" r="3.6"/><circle cx="970.0" cy="506.2" r="3.6"/><circle cx="975.1" cy="505.7" r="3.6"/><circle cx="979.4" cy="507.4" r="3.6"/><circle cx="982.9" cy="509.1" r="3.6"/><circle cx="993.1" cy="500.6" r="3.6"/><circle cx="997.4" cy="503.1" r="3.6"/><circle cx="1001.4" cy="504.9" r="3.6"/><circle cx="992.8" cy="514.3" r="3.6"/><circle cx="980.3" cy="518.6" r="3.6"/><circle cx="986.3" cy="516.5" r="3.6"/><circle cx="987.1" cy="520.8" r="3.6"/><circle cx="997.4" cy="525.9" r="3.6"/><circle cx="986.3" cy="536.6" r="3.6"/><circle cx="991.4" cy="538.3" r="3.6"/><circle cx="994.9" cy="541.4" r="3.6"/><circle cx="1003.1" cy="545.7" r="3.6"/><circle cx="1006.9" cy="519.1" r="3.6"/><circle cx="1013.4" cy="518.9" r="3.6"/><circle cx="1007.4" cy="531.4" r="3.6"/><circle cx="1010.3" cy="541.2" r="3.6"/><circle cx="1012.0" cy="492.9" r="3.6"/><circle cx="1015.1" cy="498.9" r="3.6"/><circle cx="1015.1" cy="502.6" r="3.6"/><circle cx="1027.4" cy="507.4" r="3.6"/><circle cx="1062.6" cy="497.1" r="3.6"/><circle cx="1064.3" cy="498.9" r="3.6"/><circle cx="1057.4" cy="514.8" r="3.6"/>
</g>
<g fill="#FF62BC">
<circle cx="191.3" cy="338.7" r="3.6"/><circle cx="201.6" cy="337.6" r="3.6"/><circle cx="204.4" cy="337.0" r="3.6"/><circle cx="196.6" cy="347.0" r="3.6"/><circle cx="200.9" cy="348.0" r="3.6"/><circle cx="203.0" cy="343.0" r="3.6"/><circle cx="207.3" cy="347.3" r="3.6"/><circle cx="211.6" cy="349.5" r="3.6"/><circle cx="215.2" cy="346.6" r="3.6"/><circle cx="218.8" cy="348.7" r="3.6"/><circle cx="223.1" cy="350.9" r="3.6"/><circle cx="226.7" cy="352.3" r="3.6"/><circle cx="230.3" cy="354.5" r="3.6"/><circle cx="291.2" cy="363.4" r="3.6"/><circle cx="210.2" cy="345.9" r="3.6"/><circle cx="290.9" cy="363.3" r="3.6"/>
</g>
<g stroke="#000" stroke-width="2.9" fill="none" stroke-linecap="butt">
<path d="M141.0 31.5V741.8"/>
<path d="M139.6 740.4H1253.8"/>
<path d="M226.3 740.4V749.8"/>
<path d="M503.7 740.4V749.8"/>
<path d="M781.1 740.4V749.8"/>
<path d="M1058.5 740.4V749.8"/>
<path d="M131.6 52.0H141.0"/>
<path d="M131.6 233.9H141.0"/>
<path d="M131.6 415.9H141.0"/>
<path d="M131.6 597.8H141.0"/>
</g>
<g font-size="31.5">
<text x="226.3" y="780.0" text-anchor="middle">-40</text>
<text x="503.7" y="780.0" text-anchor="middle">-20</text>
<text x="781.1" y="780.0" text-anchor="middle">0</text>
<text x="1058.5" y="780.0" text-anchor="middle">20</text>
<text x="123.5" y="64.2" text-anchor="end">40</text>
<text x="123.5" y="246.1" text-anchor="end">20</text>
<text x="123.5" y="428.1" text-anchor="end">0</text>
<text x="123.5" y="610.0" text-anchor="end">-20</text>
</g>
<text x="696.2" y="823.8" font-size="37.3" text-anchor="middle">tSNE_1</text>
<text transform="translate(59.4 386.3) rotate(-90)" font-size="37.3" text-anchor="middle">tSNE_2</text>
<g font-size="30.3" text-anchor="middle">
<text x="854.2" y="613.9">0</text>
<text x="824.2" y="460.9">1</text>
<text x="798.2" y="161.9">2</text>
<text x="1103.2" y="408.9">3</text>
<text x="367.2" y="413.9">4</text>
<text x="436.2" y="513.9">5</text>
<text x="515.2" y="305.9">6</text>
<text x="1106.2" y="214.9">7</text>
<text x="1078.2" y="604.9">8</text>
<text x="205.2" y="358.9">9</text>
</g>
<circle cx="1309.8" cy="211.8" r="10.4" fill="#F8766D"/>
<text x="1349.0" y="223.3" font-size="31.5">0</text>
<circle cx="1309.8" cy="252.8" r="10.4" fill="#D89000"/>
<text x="1349.0" y="264.3" font-size="31.5">1</text>
<circle cx="1309.8" cy="293.7" r="10.4" fill="#A3A500"/>
<text x="1349.0" y="305.2" font-size="31.5">2</text>
<circle cx="1309.8" cy="334.7" r="10.4" fill="#39B600"/>
<text x="1349.0" y="346.2" font-size="31.5">3</text>
<circle cx="1309.8" cy="375.7" r="10.4" fill="#00BF7D"/>
<text x="1349.0" y="387.2" font-size="31.5">4</text>
<circle cx="1309.8" cy="416.6" r="10.4" fill="#00BFC4"/>
<text x="1349.0" y="428.1" font-size="31.5">5</text>
<circle cx="1309.8" cy="457.6" r="10.4" fill="#00B0F6"/>
<text x="1349.0" y="469.1" font-size="31.5">6</text>
<circle cx="1309.8" cy="498.6" r="10.4" fill="#9590FF"/>
<text x="1349.0" y="510.1" font-size="31.5">7</text>
<circle cx="1309.8" cy="539.6" r="10.4" fill="#E76BF3"/>
<text x="1349.0" y="551.1" font-size="31.5">8</text>
<circle cx="1309.8" cy="580.5" r="10.4" fill="#FF62BC"/>
<text x="1349.0" y="592.0" font-size="31.5">9</text>
</svg></body></html>
